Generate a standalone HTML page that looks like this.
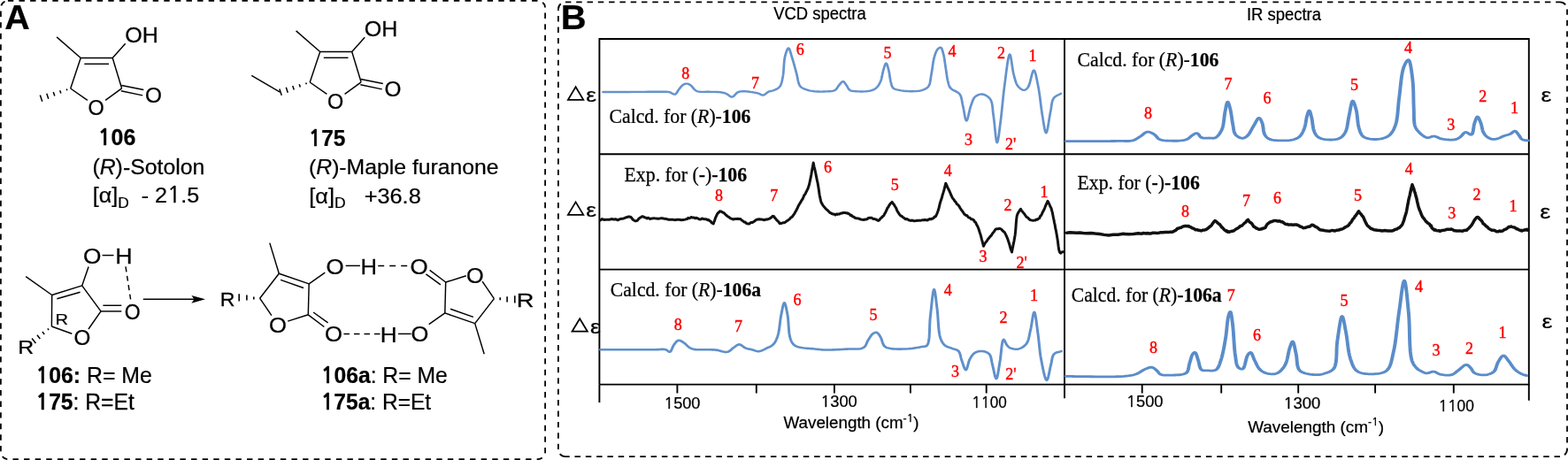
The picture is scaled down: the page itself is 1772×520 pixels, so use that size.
<!DOCTYPE html>
<html><head><meta charset="utf-8"><title>VCD and IR spectra of sotolon</title>
<style>html,body{margin:0;padding:0;background:#fff;width:1772px;height:520px;overflow:hidden}svg{display:block}</style>
</head><body>
<svg width="1772" height="520" viewBox="0 0 1772 520">
<rect width="1772" height="520" fill="#fff"/>
<rect x="0.9" y="0.9" width="615.2" height="518.2" rx="8" ry="8" fill="none" stroke="#000" stroke-width="1.8" stroke-dasharray="6.4 6.2"/>
<path d="M638.9,2.4 H1763.0 M1763.0,516.1 H638.9" fill="none" stroke="#000" stroke-width="1.6" stroke-dasharray="6.5 5.8"/>
<path d="M1771.0,10.4 V508.1 M630.9,508.1 V10.4" fill="none" stroke="#000" stroke-width="1.75" stroke-dasharray="6.4 6.0"/>
<path d="M630.9,10.4 A8,8 0 0 1 638.9,2.4 M1763.0,2.4 A8,8 0 0 1 1771.0,10.4 M1771.0,508.1 A8,8 0 0 1 1763.0,516.1 M638.9,516.1 A8,8 0 0 1 630.9,508.1" fill="none" stroke="#000" stroke-width="1.8" stroke-dasharray="7 20"/>
<g stroke="#000" stroke-width="1.9" fill="none">
<path d="M677.4,434.6 V44.0 H1727.8 V434.6 H677.4"/>
<path d="M677.4,174.2 H1727.8 M677.4,304.6 H1727.8 M1203.0,44.0 V434.6"/>
<path d="M677.4,434.6 V455 M1203.0,434.6 V450.3 M1727.8,434.6 V452.8"/>
<path d="M765.4,434.6 V444.5"/>
<path d="M854.8,434.6 V444.5"/>
<path d="M942.9,434.6 V444.5"/>
<path d="M1028.9,434.6 V444.5"/>
<path d="M1114.7,434.6 V444.5"/>
<path d="M1290.7,434.6 V444.5"/>
<path d="M1380.2,434.6 V444.5"/>
<path d="M1467.2,434.6 V444.5"/>
<path d="M1554.1,434.6 V444.5"/>
<path d="M1642.8,434.6 V444.5"/>
</g>
<path d="M650.60,98.30 L659.30,112.80 L641.90,112.80 Z" fill="none" stroke="#000" stroke-width="1.75" stroke-linejoin="miter"/>
<path d="M650.60,228.40 L659.30,242.90 L641.90,242.90 Z" fill="none" stroke="#000" stroke-width="1.75" stroke-linejoin="miter"/>
<path d="M655.20,360.20 L663.90,374.70 L646.50,374.70 Z" fill="none" stroke="#000" stroke-width="1.75" stroke-linejoin="miter"/>
<g transform="scale(1.15,1)">
<path d="M592.61,104.00 L596.82,103.99 L601.08,103.98 L605.35,103.96 L609.61,103.95 L613.84,103.94 L618.01,103.93 L622.10,103.91 L626.09,103.90 L629.63,103.88 L633.29,103.85 L636.95,103.82 L640.53,103.79 L643.94,103.76 L647.08,103.75 L649.85,103.76 L652.17,103.80 L653.07,103.81 L653.86,103.81 L654.57,103.81 L655.22,103.81 L655.84,103.83 L656.45,103.88 L657.08,103.96 L657.74,104.10 L658.47,104.36 L659.21,104.76 L659.95,105.23 L660.69,105.71 L661.41,106.15 L662.11,106.49 L662.77,106.66 L663.39,106.60 L663.97,106.28 L664.50,105.73 L664.99,105.02 L665.45,104.19 L665.91,103.30 L666.36,102.40 L666.82,101.55 L667.30,100.80 L667.78,100.13 L668.25,99.45 L668.72,98.76 L669.20,98.08 L669.68,97.44 L670.18,96.85 L670.69,96.33 L671.22,95.90 L671.68,95.59 L672.16,95.32 L672.65,95.08 L673.14,94.88 L673.65,94.73 L674.15,94.63 L674.64,94.59 L675.13,94.60 L675.63,94.68 L676.13,94.84 L676.64,95.05 L677.14,95.32 L677.64,95.62 L678.12,95.96 L678.59,96.32 L679.04,96.70 L679.51,97.16 L679.94,97.69 L680.36,98.27 L680.76,98.88 L681.17,99.49 L681.57,100.08 L681.99,100.63 L682.43,101.10 L682.82,101.47 L683.20,101.81 L683.57,102.14 L683.96,102.44 L684.36,102.71 L684.80,102.97 L685.28,103.20 L685.83,103.40 L686.89,103.66 L688.13,103.80 L689.50,103.86 L690.96,103.87 L692.48,103.83 L694.01,103.80 L695.52,103.78 L696.96,103.80 L698.38,103.84 L699.85,103.87 L701.33,103.89 L702.81,103.91 L704.25,103.95 L705.64,104.02 L706.96,104.13 L708.17,104.30 L708.98,104.45 L709.74,104.61 L710.46,104.78 L711.15,104.97 L711.82,105.19 L712.48,105.43 L713.15,105.70 L713.83,106.00 L714.54,106.42 L715.25,106.96 L715.95,107.58 L716.65,108.20 L717.34,108.77 L718.03,109.24 L718.71,109.53 L719.39,109.60 L720.11,109.36 L720.81,108.84 L721.50,108.12 L722.19,107.27 L722.88,106.39 L723.59,105.54 L724.30,104.82 L725.04,104.30 L725.70,103.99 L726.36,103.75 L727.03,103.57 L727.71,103.43 L728.40,103.34 L729.11,103.27 L729.84,103.23 L730.61,103.20 L731.64,103.20 L732.75,103.27 L733.90,103.38 L735.08,103.54 L736.27,103.72 L737.42,103.92 L738.53,104.12 L739.57,104.30 L740.34,104.44 L741.09,104.58 L741.81,104.73 L742.51,104.88 L743.20,105.04 L743.88,105.21 L744.55,105.40 L745.22,105.60 L745.84,105.84 L746.45,106.15 L747.05,106.49 L747.64,106.82 L748.23,107.13 L748.82,107.36 L749.41,107.50 L750.00,107.50 L750.66,107.31 L751.32,106.94 L751.97,106.44 L752.62,105.87 L753.28,105.25 L753.94,104.66 L754.62,104.12 L755.30,103.70 L755.98,103.40 L756.67,103.17 L757.37,102.98 L758.08,102.82 L758.79,102.65 L759.49,102.46 L760.19,102.21 L760.87,101.90 L761.61,101.51 L762.36,101.10 L763.12,100.65 L763.86,100.17 L764.58,99.63 L765.26,99.03 L765.88,98.36 L766.43,97.60 L767.01,96.57 L767.48,95.42 L767.87,94.16 L768.21,92.81 L768.50,91.38 L768.77,89.88 L769.03,88.31 L769.30,86.70 L769.66,84.15 L769.92,81.27 L770.12,78.16 L770.30,74.96 L770.49,71.77 L770.73,68.72 L771.05,65.93 L771.48,63.50 L771.83,62.01 L772.22,60.46 L772.64,58.93 L773.09,57.51 L773.54,56.26 L774.00,55.27 L774.44,54.63 L774.87,54.40 L775.30,54.69 L775.73,55.48 L776.16,56.66 L776.58,58.12 L777.00,59.77 L777.42,61.50 L777.84,63.21 L778.26,64.80 L778.82,66.82 L779.38,68.99 L779.95,71.27 L780.52,73.61 L781.08,75.98 L781.63,78.33 L782.17,80.62 L782.70,82.80 L783.11,84.72 L783.47,86.71 L783.80,88.70 L784.13,90.65 L784.49,92.50 L784.92,94.21 L785.44,95.73 L786.09,97.00 L786.60,97.72 L787.14,98.33 L787.72,98.85 L788.34,99.31 L788.99,99.71 L789.67,100.08 L790.39,100.44 L791.13,100.80 L792.13,101.24 L793.20,101.64 L794.33,101.99 L795.51,102.30 L796.73,102.57 L797.96,102.81 L799.20,103.02 L800.43,103.20 L801.79,103.36 L803.19,103.47 L804.61,103.54 L806.05,103.58 L807.49,103.58 L808.91,103.55 L810.30,103.49 L811.65,103.40 L812.85,103.33 L814.07,103.27 L815.29,103.21 L816.49,103.11 L817.64,102.95 L818.72,102.71 L819.72,102.37 L820.61,101.90 L821.25,101.38 L821.80,100.75 L822.30,100.04 L822.74,99.28 L823.17,98.49 L823.60,97.72 L824.04,96.97 L824.52,96.30 L825.00,95.67 L825.49,94.98 L825.99,94.27 L826.49,93.59 L826.99,92.99 L827.48,92.51 L827.97,92.20 L828.43,92.10 L828.87,92.23 L829.30,92.56 L829.72,93.05 L830.13,93.64 L830.53,94.31 L830.94,95.00 L831.34,95.68 L831.74,96.30 L832.16,96.98 L832.55,97.73 L832.93,98.51 L833.30,99.30 L833.70,100.07 L834.12,100.78 L834.60,101.40 L835.13,101.90 L835.71,102.27 L836.32,102.55 L836.97,102.75 L837.66,102.89 L838.38,102.99 L839.14,103.06 L839.94,103.13 L840.78,103.20 L842.21,103.32 L843.84,103.41 L845.60,103.47 L847.42,103.47 L849.26,103.42 L851.03,103.29 L852.69,103.09 L854.17,102.80 L855.17,102.54 L856.12,102.25 L857.02,101.92 L857.89,101.56 L858.71,101.14 L859.50,100.67 L860.25,100.12 L860.96,99.50 L861.65,98.76 L862.30,97.95 L862.90,97.05 L863.46,96.10 L863.99,95.08 L864.48,94.02 L864.95,92.93 L865.39,91.80 L865.87,90.35 L866.27,88.77 L866.61,87.09 L866.91,85.36 L867.20,83.64 L867.50,81.95 L867.81,80.36 L868.17,78.90 L868.48,77.76 L868.80,76.54 L869.13,75.31 L869.46,74.13 L869.80,73.09 L870.13,72.25 L870.46,71.70 L870.78,71.50 L871.10,71.70 L871.42,72.25 L871.74,73.08 L872.05,74.11 L872.36,75.28 L872.66,76.52 L872.95,77.75 L873.22,78.90 L873.55,80.48 L873.84,82.25 L874.10,84.13 L874.35,86.06 L874.60,87.99 L874.86,89.85 L875.15,91.57 L875.48,93.10 L875.71,94.06 L875.92,94.99 L876.12,95.87 L876.34,96.71 L876.59,97.50 L876.90,98.24 L877.27,98.90 L877.74,99.50 L878.35,100.05 L879.06,100.50 L879.84,100.87 L880.69,101.18 L881.59,101.44 L882.52,101.66 L883.47,101.88 L884.43,102.10 L885.69,102.37 L887.04,102.60 L888.44,102.79 L889.89,102.95 L891.35,103.06 L892.82,103.15 L894.26,103.19 L895.65,103.20 L896.96,103.19 L898.27,103.17 L899.59,103.13 L900.89,103.05 L902.17,102.92 L903.41,102.73 L904.61,102.46 L905.74,102.10 L906.70,101.73 L907.65,101.34 L908.57,100.90 L909.46,100.41 L910.30,99.84 L911.09,99.20 L911.80,98.45 L912.43,97.60 L913.08,96.35 L913.57,94.90 L913.95,93.29 L914.23,91.55 L914.47,89.73 L914.69,87.86 L914.93,85.97 L915.22,84.10 L915.58,81.81 L915.92,79.35 L916.24,76.79 L916.55,74.20 L916.88,71.64 L917.23,69.18 L917.63,66.87 L918.09,64.80 L918.44,63.43 L918.79,62.08 L919.17,60.78 L919.55,59.54 L919.97,58.40 L920.41,57.36 L920.88,56.45 L921.39,55.70 L921.75,55.27 L922.14,54.87 L922.56,54.50 L922.98,54.18 L923.39,53.94 L923.80,53.78 L924.18,53.73 L924.52,53.80 L924.94,54.13 L925.31,54.71 L925.65,55.51 L925.96,56.46 L926.24,57.52 L926.52,58.65 L926.78,59.79 L927.04,60.90 L927.40,62.54 L927.72,64.33 L928.01,66.25 L928.28,68.26 L928.53,70.31 L928.78,72.38 L929.04,74.42 L929.30,76.40 L929.57,78.36 L929.82,80.38 L930.05,82.42 L930.30,84.44 L930.55,86.43 L930.82,88.34 L931.13,90.14 L931.48,91.80 L931.73,92.93 L931.97,94.00 L932.20,95.03 L932.46,96.00 L932.76,96.95 L933.11,97.86 L933.55,98.74 L934.09,99.60 L934.95,100.56 L936.04,101.40 L937.27,102.16 L938.58,102.89 L939.90,103.65 L941.14,104.46 L942.24,105.40 L943.13,106.50 L943.81,107.80 L944.34,109.23 L944.73,110.76 L945.05,112.37 L945.31,114.04 L945.56,115.75 L945.84,117.48 L946.17,119.20 L946.61,121.47 L947.04,124.14 L947.47,127.00 L947.90,129.83 L948.34,132.41 L948.79,134.53 L949.25,135.96 L949.74,136.50 L950.25,135.97 L950.77,134.50 L951.30,132.33 L951.85,129.69 L952.41,126.83 L952.99,123.97 L953.57,121.35 L954.17,119.20 L954.62,117.79 L955.04,116.39 L955.46,115.04 L955.89,113.73 L956.35,112.51 L956.88,111.38 L957.48,110.37 L958.17,109.50 L958.90,108.81 L959.70,108.19 L960.57,107.64 L961.49,107.18 L962.43,106.82 L963.37,106.58 L964.31,106.47 L965.22,106.50 L966.25,106.71 L967.33,107.10 L968.43,107.65 L969.52,108.35 L970.57,109.18 L971.56,110.12 L972.45,111.17 L973.22,112.30 L974.00,113.98 L974.58,115.93 L974.99,118.10 L975.28,120.44 L975.51,122.92 L975.71,125.48 L975.95,128.09 L976.26,130.70 L976.72,134.56 L977.17,139.21 L977.61,144.24 L978.05,149.27 L978.48,153.88 L978.92,157.67 L979.37,160.25 L979.83,161.20 L980.24,160.56 L980.66,158.78 L981.09,156.11 L981.53,152.78 L981.96,149.02 L982.39,145.08 L982.81,141.20 L983.22,137.60 L983.73,132.95 L984.22,127.96 L984.69,122.73 L985.15,117.34 L985.63,111.89 L986.12,106.47 L986.65,101.18 L987.22,96.10 L987.79,91.15 L988.39,85.60 L989.02,79.85 L989.67,74.28 L990.32,69.27 L990.98,65.22 L991.63,62.50 L992.26,61.50 L992.76,62.22 L993.24,64.19 L993.71,67.08 L994.18,70.60 L994.66,74.43 L995.16,78.25 L995.69,81.74 L996.26,84.60 L996.69,86.44 L997.10,88.25 L997.52,90.00 L997.95,91.69 L998.42,93.28 L998.95,94.76 L999.56,96.11 L1000.26,97.30 L1000.91,98.17 L1001.63,99.01 L1002.41,99.80 L1003.23,100.50 L1004.05,101.09 L1004.86,101.54 L1005.64,101.82 L1006.35,101.90 L1006.90,101.81 L1007.43,101.60 L1007.95,101.28 L1008.45,100.86 L1008.94,100.35 L1009.42,99.76 L1009.89,99.11 L1010.35,98.40 L1011.17,96.55 L1011.94,93.91 L1012.66,90.82 L1013.35,87.57 L1014.01,84.50 L1014.66,81.92 L1015.29,80.15 L1015.91,79.50 L1016.53,80.03 L1017.12,81.47 L1017.71,83.61 L1018.27,86.28 L1018.82,89.28 L1019.35,92.42 L1019.86,95.53 L1020.35,98.40 L1020.94,102.07 L1021.47,106.04 L1021.96,110.22 L1022.42,114.50 L1022.88,118.80 L1023.34,122.99 L1023.83,126.99 L1024.35,130.70 L1024.78,133.66 L1025.22,136.87 L1025.67,140.14 L1026.13,143.27 L1026.59,146.04 L1027.06,148.28 L1027.53,149.76 L1028.00,150.30 L1028.53,149.55 L1029.08,147.51 L1029.63,144.51 L1030.19,140.86 L1030.74,136.87 L1031.29,132.87 L1031.83,129.18 L1032.35,126.10 L1032.70,123.99 L1032.98,121.88 L1033.23,119.80 L1033.48,117.79 L1033.79,115.89 L1034.18,114.11 L1034.70,112.51 L1035.39,111.10 L1036.08,110.16 L1036.86,109.37 L1037.73,108.69 L1038.66,108.09 L1039.61,107.53 L1040.58,106.99 L1041.53,106.42 L1042.43,105.80" fill="none" stroke="#6593cd" stroke-width="2.4" stroke-linejoin="round" stroke-linecap="round" />
</g>
<g transform="scale(1.15,1)">
<path d="M590.00,395.20 L596.96,395.20 L604.33,395.20 L611.85,395.20 L619.29,395.20 L626.42,395.20 L632.98,395.20 L638.75,395.20 L643.48,395.20 L645.24,395.17 L646.85,395.09 L648.33,394.99 L649.68,394.90 L650.92,394.85 L652.07,394.87 L653.15,394.97 L654.17,395.20 L654.80,395.48 L655.38,395.88 L655.92,396.35 L656.42,396.84 L656.90,397.29 L657.36,397.63 L657.81,397.82 L658.26,397.80 L658.83,397.40 L659.34,396.65 L659.82,395.64 L660.29,394.45 L660.75,393.19 L661.22,391.93 L661.72,390.77 L662.26,389.80 L662.77,389.03 L663.28,388.23 L663.81,387.44 L664.35,386.69 L664.90,386.01 L665.48,385.45 L666.08,385.03 L666.70,384.80 L667.35,384.77 L668.04,384.93 L668.76,385.23 L669.50,385.64 L670.24,386.13 L670.96,386.66 L671.67,387.19 L672.35,387.70 L673.01,388.25 L673.63,388.87 L674.24,389.54 L674.84,390.24 L675.44,390.93 L676.04,391.59 L676.66,392.19 L677.30,392.70 L677.89,393.09 L678.47,393.44 L679.06,393.76 L679.65,394.04 L680.27,394.29 L680.92,394.52 L681.61,394.72 L682.35,394.90 L683.54,395.10 L684.86,395.21 L686.27,395.26 L687.75,395.26 L689.26,395.23 L690.76,395.20 L692.24,395.18 L693.65,395.20 L694.93,395.23 L696.18,395.25 L697.42,395.27 L698.66,395.29 L699.89,395.33 L701.13,395.38 L702.38,395.47 L703.65,395.60 L705.06,395.85 L706.53,396.24 L708.02,396.70 L709.52,397.17 L710.98,397.57 L712.40,397.86 L713.73,397.96 L714.96,397.80 L715.87,397.45 L716.72,396.93 L717.51,396.28 L718.27,395.55 L719.01,394.78 L719.74,394.02 L720.47,393.31 L721.22,392.70 L721.89,392.19 L722.55,391.64 L723.21,391.08 L723.87,390.55 L724.52,390.09 L725.18,389.72 L725.85,389.48 L726.52,389.40 L727.25,389.54 L727.99,389.90 L728.73,390.42 L729.47,391.05 L730.22,391.72 L730.98,392.37 L731.75,392.95 L732.52,393.40 L733.28,393.72 L734.05,393.99 L734.82,394.22 L735.60,394.43 L736.39,394.61 L737.19,394.80 L737.98,394.99 L738.78,395.20 L739.62,395.47 L740.47,395.79 L741.32,396.13 L742.17,396.46 L743.03,396.75 L743.90,396.97 L744.77,397.10 L745.65,397.10 L746.66,396.94 L747.69,396.63 L748.74,396.21 L749.79,395.70 L750.84,395.14 L751.87,394.54 L752.87,393.96 L753.83,393.40 L754.68,392.93 L755.53,392.48 L756.36,392.03 L757.17,391.56 L757.96,391.05 L758.71,390.48 L759.42,389.84 L760.09,389.10 L760.79,388.13 L761.43,387.07 L762.02,385.93 L762.56,384.70 L763.07,383.38 L763.54,381.99 L764.00,380.53 L764.43,379.00 L765.00,376.56 L765.47,373.81 L765.86,370.84 L766.21,367.74 L766.54,364.62 L766.87,361.56 L767.23,358.65 L767.65,356.00 L768.02,353.92 L768.40,351.67 L768.79,349.39 L769.18,347.21 L769.58,345.27 L769.99,343.71 L770.39,342.68 L770.78,342.30 L771.18,342.67 L771.59,343.69 L772.00,345.23 L772.42,347.15 L772.82,349.32 L773.21,351.61 L773.57,353.88 L773.91,356.00 L774.29,358.94 L774.57,362.25 L774.79,365.78 L775.00,369.40 L775.22,372.97 L775.51,376.33 L775.90,379.36 L776.43,381.90 L776.80,383.18 L777.18,384.37 L777.58,385.48 L778.01,386.50 L778.47,387.44 L778.98,388.30 L779.55,389.09 L780.17,389.80 L780.81,390.38 L781.49,390.86 L782.22,391.26 L782.98,391.61 L783.79,391.91 L784.63,392.18 L785.52,392.44 L786.43,392.70 L787.79,393.03 L789.26,393.30 L790.82,393.52 L792.44,393.70 L794.10,393.85 L795.77,393.99 L797.43,394.14 L799.04,394.30 L800.62,394.48 L802.16,394.67 L803.70,394.85 L805.24,395.03 L806.81,395.19 L808.42,395.33 L810.09,395.43 L811.83,395.50 L814.15,395.52 L816.61,395.49 L819.17,395.40 L821.79,395.28 L824.43,395.13 L827.06,394.96 L829.62,394.78 L832.09,394.60 L834.33,394.51 L836.64,394.51 L838.97,394.54 L841.25,394.54 L843.42,394.44 L845.43,394.18 L847.21,393.68 L848.70,392.90 L849.56,392.11 L850.26,391.16 L850.84,390.08 L851.33,388.92 L851.77,387.71 L852.21,386.52 L852.68,385.36 L853.22,384.30 L853.76,383.34 L854.31,382.34 L854.86,381.35 L855.41,380.37 L855.97,379.45 L856.55,378.61 L857.13,377.89 L857.74,377.30 L858.19,376.95 L858.66,376.62 L859.14,376.33 L859.62,376.10 L860.10,375.93 L860.57,375.83 L861.04,375.82 L861.48,375.90 L861.99,376.15 L862.49,376.56 L862.97,377.10 L863.44,377.74 L863.90,378.46 L864.35,379.22 L864.79,380.01 L865.22,380.80 L865.73,381.94 L866.18,383.27 L866.59,384.72 L866.99,386.22 L867.41,387.68 L867.87,389.05 L868.41,390.25 L869.04,391.20 L869.58,391.76 L870.12,392.21 L870.70,392.58 L871.31,392.89 L871.96,393.15 L872.66,393.37 L873.43,393.59 L874.26,393.80 L876.00,394.14 L878.05,394.38 L880.34,394.52 L882.77,394.59 L885.27,394.59 L887.75,394.54 L890.14,394.43 L892.35,394.30 L894.18,394.14 L896.03,393.92 L897.87,393.65 L899.66,393.34 L901.39,393.01 L903.02,392.67 L904.54,392.33 L905.91,392.00 L906.70,391.85 L907.45,391.77 L908.16,391.71 L908.83,391.64 L909.46,391.50 L910.05,391.26 L910.61,390.88 L911.13,390.30 L912.09,388.17 L912.73,385.04 L913.14,381.14 L913.37,376.71 L913.52,371.98 L913.65,367.18 L913.84,362.55 L914.17,358.30 L914.61,353.95 L915.06,349.01 L915.53,343.83 L916.01,338.78 L916.49,334.22 L916.97,330.51 L917.45,328.01 L917.91,327.10 L918.30,327.73 L918.69,329.46 L919.08,332.06 L919.47,335.28 L919.85,338.88 L920.23,342.63 L920.60,346.28 L920.96,349.60 L921.32,353.48 L921.61,357.72 L921.87,362.15 L922.12,366.63 L922.42,370.98 L922.81,375.04 L923.32,378.67 L924.00,381.70 L924.44,383.13 L924.90,384.43 L925.38,385.63 L925.89,386.72 L926.45,387.73 L927.05,388.65 L927.71,389.51 L928.43,390.30 L929.20,390.97 L930.04,391.52 L930.95,391.99 L931.89,392.40 L932.85,392.77 L933.81,393.13 L934.75,393.49 L935.65,393.90 L936.49,394.26 L937.35,394.57 L938.21,394.85 L939.06,395.13 L939.89,395.46 L940.66,395.86 L941.37,396.36 L942.00,397.00 L942.62,397.97 L943.10,399.13 L943.49,400.43 L943.81,401.84 L944.11,403.31 L944.40,404.79 L944.73,406.23 L945.13,407.60 L945.59,409.08 L946.08,410.76 L946.58,412.53 L947.09,414.25 L947.61,415.80 L948.13,417.06 L948.64,417.90 L949.13,418.20 L949.63,417.79 L950.10,416.72 L950.56,415.16 L951.02,413.26 L951.49,411.21 L951.99,409.17 L952.53,407.31 L953.13,405.80 L953.65,404.76 L954.17,403.75 L954.71,402.78 L955.28,401.86 L955.87,400.99 L956.51,400.20 L957.18,399.50 L957.91,398.90 L958.69,398.40 L959.53,397.97 L960.42,397.61 L961.34,397.34 L962.28,397.13 L963.22,397.01 L964.14,396.96 L965.04,397.00 L965.97,397.11 L966.93,397.30 L967.91,397.57 L968.87,397.92 L969.80,398.36 L970.68,398.90 L971.48,399.55 L972.17,400.30 L972.87,401.43 L973.40,402.80 L973.82,404.35 L974.15,406.03 L974.44,407.80 L974.72,409.60 L975.02,411.38 L975.39,413.10 L975.84,415.12 L976.30,417.47 L976.77,419.97 L977.24,422.41 L977.70,424.64 L978.16,426.45 L978.61,427.66 L979.04,428.10 L979.51,427.56 L979.96,426.12 L980.40,423.96 L980.84,421.30 L981.27,418.32 L981.69,415.23 L982.11,412.22 L982.52,409.50 L982.97,406.17 L983.38,402.25 L983.76,398.07 L984.15,393.92 L984.56,390.12 L985.02,386.98 L985.55,384.80 L986.17,383.90 L986.55,384.04 L986.95,384.57 L987.37,385.39 L987.81,386.39 L988.26,387.48 L988.72,388.57 L989.18,389.54 L989.65,390.30 L990.02,390.79 L990.38,391.25 L990.74,391.68 L991.10,392.08 L991.49,392.46 L991.91,392.80 L992.36,393.12 L992.87,393.40 L993.67,393.76 L994.58,394.08 L995.57,394.36 L996.61,394.58 L997.68,394.71 L998.75,394.76 L999.79,394.69 L1000.78,394.50 L1001.85,394.14 L1002.93,393.66 L1004.02,393.04 L1005.10,392.31 L1006.13,391.47 L1007.10,390.53 L1007.99,389.51 L1008.78,388.40 L1009.58,386.90 L1010.22,385.20 L1010.74,383.33 L1011.17,381.34 L1011.55,379.26 L1011.91,377.14 L1012.28,375.00 L1012.70,372.90 L1013.19,370.24 L1013.67,367.12 L1014.14,363.79 L1014.59,360.50 L1015.04,357.50 L1015.48,355.05 L1015.91,353.40 L1016.35,352.80 L1016.82,353.49 L1017.28,355.35 L1017.75,358.14 L1018.20,361.58 L1018.64,365.41 L1019.08,369.36 L1019.50,373.18 L1019.91,376.60 L1020.32,380.12 L1020.68,383.76 L1021.02,387.46 L1021.34,391.20 L1021.68,394.95 L1022.07,398.65 L1022.51,402.28 L1023.04,405.80 L1023.62,409.27 L1024.27,413.14 L1024.98,417.15 L1025.72,421.03 L1026.47,424.51 L1027.22,427.32 L1027.94,429.21 L1028.61,429.90 L1029.14,429.39 L1029.66,428.01 L1030.17,425.96 L1030.67,423.46 L1031.17,420.71 L1031.65,417.93 L1032.13,415.32 L1032.61,413.10 L1032.97,411.35 L1033.27,409.55 L1033.53,407.75 L1033.81,405.99 L1034.12,404.32 L1034.53,402.78 L1035.05,401.43 L1035.74,400.30 L1036.44,399.58 L1037.25,399.02 L1038.14,398.59 L1039.09,398.25 L1040.07,397.95 L1041.05,397.67 L1042.03,397.37 L1042.96,397.00" fill="none" stroke="#5f90cb" stroke-width="2.6" stroke-linejoin="round" stroke-linecap="round" />
</g>
<g transform="scale(1.4,1)">
<path d="M860.36,159.70 L863.56,159.69 L866.79,159.68 L870.05,159.67 L873.30,159.66 L876.51,159.65 L879.67,159.64 L882.74,159.62 L885.71,159.60 L888.17,159.58 L890.60,159.57 L892.99,159.56 L895.33,159.54 L897.60,159.52 L899.80,159.49 L901.92,159.45 L903.93,159.40 L905.38,159.39 L906.79,159.43 L908.16,159.48 L909.48,159.52 L910.76,159.52 L911.98,159.43 L913.16,159.24 L914.29,158.90 L915.17,158.50 L916.00,158.01 L916.79,157.45 L917.55,156.83 L918.29,156.17 L919.03,155.50 L919.76,154.84 L920.50,154.20 L921.22,153.53 L921.93,152.76 L922.63,151.96 L923.33,151.16 L924.02,150.42 L924.72,149.80 L925.42,149.34 L926.14,149.10 L926.84,149.08 L927.57,149.23 L928.30,149.52 L929.03,149.91 L929.76,150.38 L930.47,150.90 L931.15,151.45 L931.79,152.00 L932.35,152.59 L932.85,153.28 L933.32,154.03 L933.77,154.81 L934.23,155.59 L934.73,156.32 L935.29,156.97 L935.93,157.50 L936.87,158.02 L937.90,158.41 L939.02,158.70 L940.21,158.89 L941.44,159.02 L942.69,159.11 L943.96,159.16 L945.21,159.20 L946.71,159.24 L948.32,159.26 L949.98,159.23 L951.66,159.14 L953.30,158.97 L954.86,158.71 L956.30,158.32 L957.57,157.80 L958.36,157.31 L959.09,156.70 L959.75,156.02 L960.37,155.29 L960.97,154.56 L961.55,153.86 L962.12,153.23 L962.71,152.70 L963.18,152.32 L963.64,151.92 L964.10,151.53 L964.55,151.17 L964.99,150.87 L965.43,150.66 L965.86,150.56 L966.29,150.60 L966.75,150.88 L967.19,151.40 L967.61,152.09 L968.02,152.88 L968.45,153.70 L968.90,154.48 L969.39,155.13 L969.93,155.60 L970.59,155.91 L971.32,156.10 L972.09,156.18 L972.89,156.19 L973.71,156.15 L974.52,156.09 L975.31,156.03 L976.07,156.00 L976.74,156.03 L977.41,156.09 L978.08,156.17 L978.73,156.23 L979.38,156.23 L980.01,156.14 L980.62,155.95 L981.21,155.60 L981.95,154.94 L982.68,154.07 L983.38,153.03 L984.06,151.84 L984.70,150.54 L985.30,149.14 L985.86,147.69 L986.36,146.20 L986.91,144.06 L987.33,141.63 L987.66,138.99 L987.92,136.26 L988.15,133.50 L988.38,130.81 L988.63,128.28 L988.93,126.00 L989.18,124.34 L989.43,122.55 L989.68,120.76 L989.93,119.05 L990.19,117.53 L990.46,116.32 L990.72,115.51 L991.00,115.20 L991.25,115.40 L991.51,115.98 L991.78,116.86 L992.05,117.98 L992.32,119.24 L992.58,120.59 L992.84,121.93 L993.07,123.20 L993.38,125.06 L993.65,127.13 L993.90,129.35 L994.14,131.65 L994.38,133.98 L994.62,136.27 L994.87,138.46 L995.14,140.50 L995.35,142.10 L995.53,143.71 L995.69,145.30 L995.86,146.84 L996.08,148.31 L996.36,149.68 L996.73,150.92 L997.21,152.00 L997.75,152.85 L998.39,153.64 L999.10,154.37 L999.86,155.00 L1000.64,155.53 L1001.42,155.94 L1002.17,156.20 L1002.86,156.30 L1003.41,156.25 L1003.95,156.09 L1004.48,155.83 L1005.00,155.48 L1005.51,155.05 L1006.01,154.56 L1006.51,154.00 L1007.00,153.40 L1007.69,152.36 L1008.37,151.09 L1009.02,149.64 L1009.66,148.08 L1010.29,146.46 L1010.91,144.85 L1011.53,143.31 L1012.14,141.90 L1012.68,140.64 L1013.23,139.25 L1013.77,137.81 L1014.30,136.43 L1014.82,135.19 L1015.33,134.20 L1015.82,133.54 L1016.29,133.30 L1016.65,133.45 L1017.00,133.86 L1017.34,134.48 L1017.67,135.26 L1017.99,136.15 L1018.30,137.10 L1018.59,138.07 L1018.86,139.00 L1019.17,140.39 L1019.41,142.00 L1019.60,143.76 L1019.76,145.57 L1019.94,147.38 L1020.16,149.11 L1020.46,150.67 L1020.86,152.00 L1021.20,152.84 L1021.57,153.62 L1021.96,154.33 L1022.38,154.99 L1022.83,155.59 L1023.34,156.14 L1023.89,156.64 L1024.50,157.10 L1025.50,157.65 L1026.66,158.07 L1027.94,158.38 L1029.30,158.59 L1030.70,158.73 L1032.11,158.81 L1033.48,158.86 L1034.79,158.90 L1035.99,158.92 L1037.21,158.92 L1038.43,158.87 L1039.64,158.78 L1040.83,158.64 L1041.97,158.43 L1043.06,158.16 L1044.07,157.80 L1044.84,157.47 L1045.57,157.11 L1046.28,156.71 L1046.96,156.27 L1047.60,155.78 L1048.22,155.22 L1048.80,154.60 L1049.36,153.90 L1049.93,153.02 L1050.46,152.04 L1050.94,150.97 L1051.39,149.83 L1051.81,148.62 L1052.20,147.38 L1052.57,146.10 L1052.93,144.80 L1053.31,143.17 L1053.62,141.38 L1053.90,139.49 L1054.14,137.57 L1054.37,135.67 L1054.61,133.85 L1054.86,132.18 L1055.14,130.70 L1055.35,129.77 L1055.56,128.81 L1055.77,127.85 L1055.99,126.95 L1056.21,126.17 L1056.43,125.55 L1056.65,125.14 L1056.86,125.00 L1057.10,125.21 L1057.34,125.78 L1057.57,126.64 L1057.81,127.71 L1058.04,128.92 L1058.27,130.21 L1058.49,131.49 L1058.71,132.70 L1058.99,134.49 L1059.23,136.51 L1059.43,138.68 L1059.64,140.93 L1059.88,143.15 L1060.15,145.28 L1060.50,147.22 L1060.93,148.90 L1061.27,149.93 L1061.63,150.90 L1062.01,151.81 L1062.42,152.65 L1062.86,153.43 L1063.35,154.15 L1063.89,154.80 L1064.50,155.40 L1065.36,156.04 L1066.33,156.58 L1067.40,157.01 L1068.53,157.36 L1069.69,157.62 L1070.87,157.81 L1072.03,157.94 L1073.14,158.00 L1074.25,158.01 L1075.39,157.98 L1076.55,157.87 L1077.71,157.69 L1078.83,157.43 L1079.90,157.07 L1080.89,156.59 L1081.79,156.00 L1082.49,155.38 L1083.13,154.69 L1083.72,153.91 L1084.27,153.06 L1084.78,152.13 L1085.26,151.13 L1085.71,150.05 L1086.14,148.90 L1086.68,147.08 L1087.12,145.00 L1087.49,142.74 L1087.80,140.34 L1088.08,137.88 L1088.36,135.41 L1088.66,133.00 L1089.00,130.70 L1089.35,128.36 L1089.70,125.73 L1090.06,122.98 L1090.41,120.31 L1090.77,117.90 L1091.15,115.94 L1091.53,114.61 L1091.93,114.10 L1092.27,114.36 L1092.64,115.13 L1093.01,116.30 L1093.39,117.77 L1093.77,119.44 L1094.13,121.20 L1094.48,122.96 L1094.79,124.60 L1095.13,126.85 L1095.40,129.35 L1095.62,132.02 L1095.82,134.77 L1096.03,137.51 L1096.27,140.15 L1096.59,142.61 L1097.00,144.80 L1097.33,146.26 L1097.65,147.68 L1097.99,149.04 L1098.35,150.33 L1098.77,151.53 L1099.27,152.64 L1099.86,153.63 L1100.57,154.50 L1101.65,155.39 L1102.94,156.11 L1104.39,156.67 L1105.95,157.08 L1107.56,157.35 L1109.16,157.48 L1110.71,157.49 L1112.14,157.40 L1113.40,157.22 L1114.67,156.93 L1115.93,156.54 L1117.17,156.05 L1118.36,155.44 L1119.49,154.71 L1120.54,153.87 L1121.50,152.90 L1122.36,151.80 L1123.13,150.57 L1123.83,149.22 L1124.47,147.75 L1125.05,146.17 L1125.58,144.48 L1126.09,142.69 L1126.57,140.80 L1127.19,137.73 L1127.66,134.31 L1128.02,130.60 L1128.31,126.69 L1128.56,122.65 L1128.81,118.55 L1129.08,114.48 L1129.43,110.50 L1129.82,106.15 L1130.19,101.51 L1130.55,96.73 L1130.93,91.98 L1131.34,87.39 L1131.83,83.13 L1132.39,79.35 L1133.07,76.20 L1133.50,74.68 L1133.97,73.15 L1134.48,71.68 L1135.00,70.35 L1135.52,69.22 L1136.02,68.35 L1136.50,67.82 L1136.93,67.70 L1137.51,68.45 L1138.03,70.25 L1138.51,72.87 L1138.94,76.08 L1139.33,79.65 L1139.68,83.36 L1140.00,86.99 L1140.29,90.30 L1140.55,94.03 L1140.74,97.98 L1140.86,102.05 L1140.94,106.19 L1140.99,110.32 L1141.04,114.37 L1141.11,118.25 L1141.21,121.90 L1141.29,124.72 L1141.33,127.54 L1141.35,130.32 L1141.38,133.01 L1141.45,135.58 L1141.58,137.97 L1141.80,140.16 L1142.14,142.10 L1142.41,143.16 L1142.69,144.12 L1143.01,144.99 L1143.35,145.79 L1143.72,146.56 L1144.13,147.30 L1144.58,148.04 L1145.07,148.80 L1145.74,149.78 L1146.50,150.82 L1147.33,151.87 L1148.20,152.88 L1149.10,153.81 L1150.02,154.60 L1150.92,155.21 L1151.79,155.60 L1152.50,155.69 L1153.22,155.57 L1153.93,155.30 L1154.65,154.95 L1155.37,154.58 L1156.10,154.25 L1156.83,154.04 L1157.57,154.00 L1158.38,154.17 L1159.18,154.50 L1159.98,154.93 L1160.80,155.44 L1161.62,155.96 L1162.48,156.46 L1163.36,156.89 L1164.29,157.20 L1165.52,157.47 L1166.87,157.70 L1168.30,157.88 L1169.75,157.99 L1171.18,158.03 L1172.54,157.99 L1173.78,157.85 L1174.86,157.60 L1175.45,157.39 L1175.98,157.13 L1176.47,156.84 L1176.94,156.51 L1177.38,156.15 L1177.81,155.76 L1178.25,155.34 L1178.71,154.90 L1179.25,154.28 L1179.78,153.52 L1180.30,152.68 L1180.82,151.83 L1181.34,151.01 L1181.87,150.31 L1182.43,149.79 L1183.00,149.50 L1183.59,149.54 L1184.22,149.88 L1184.88,150.41 L1185.55,151.02 L1186.20,151.62 L1186.81,152.08 L1187.37,152.31 L1187.86,152.20 L1188.38,151.48 L1188.76,150.24 L1189.06,148.61 L1189.28,146.74 L1189.48,144.75 L1189.68,142.78 L1189.91,140.95 L1190.21,139.40 L1190.49,138.26 L1190.78,137.05 L1191.08,135.82 L1191.38,134.65 L1191.70,133.61 L1192.01,132.77 L1192.33,132.21 L1192.64,132.00 L1192.94,132.15 L1193.25,132.59 L1193.55,133.26 L1193.87,134.11 L1194.18,135.07 L1194.48,136.10 L1194.78,137.13 L1195.07,138.10 L1195.43,139.50 L1195.75,141.09 L1196.04,142.81 L1196.33,144.58 L1196.64,146.34 L1196.99,148.03 L1197.41,149.57 L1197.93,150.90 L1198.42,151.85 L1198.95,152.74 L1199.53,153.58 L1200.13,154.34 L1200.77,155.04 L1201.41,155.65 L1202.06,156.17 L1202.71,156.60 L1203.29,156.90 L1203.87,157.12 L1204.47,157.27 L1205.07,157.36 L1205.68,157.40 L1206.30,157.38 L1206.93,157.31 L1207.57,157.20 L1208.38,156.96 L1209.21,156.58 L1210.07,156.11 L1210.94,155.57 L1211.81,155.00 L1212.66,154.44 L1213.49,153.93 L1214.29,153.50 L1214.92,153.21 L1215.55,152.97 L1216.17,152.74 L1216.77,152.53 L1217.36,152.32 L1217.94,152.08 L1218.51,151.82 L1219.07,151.50 L1219.59,151.10 L1220.10,150.59 L1220.61,150.02 L1221.10,149.45 L1221.57,148.93 L1222.04,148.51 L1222.49,148.25 L1222.93,148.20 L1223.32,148.36 L1223.70,148.69 L1224.06,149.15 L1224.42,149.71 L1224.76,150.33 L1225.10,150.98 L1225.44,151.61 L1225.79,152.20 L1226.15,152.85 L1226.49,153.57 L1226.82,154.33 L1227.15,155.09 L1227.49,155.83 L1227.86,156.51 L1228.26,157.11 L1228.71,157.60 L1229.23,157.96 L1229.79,158.22 L1230.40,158.39 L1231.02,158.51 L1231.67,158.60 L1232.31,158.67 L1232.95,158.77 L1233.57,158.90" fill="none" stroke="#5a8cc9" stroke-width="2.8" stroke-linejoin="round" stroke-linecap="round" />
</g>
<g transform="scale(1.4,1)">
<path d="M860.36,425.30 L862.42,425.35 L864.44,425.41 L866.44,425.48 L868.45,425.54 L870.49,425.59 L872.61,425.64 L874.81,425.68 L877.14,425.70 L880.59,425.73 L884.41,425.79 L888.46,425.84 L892.60,425.87 L896.68,425.85 L900.57,425.77 L904.10,425.59 L907.14,425.30 L908.69,425.09 L910.13,424.88 L911.47,424.65 L912.74,424.38 L913.93,424.08 L915.08,423.72 L916.19,423.30 L917.29,422.80 L918.17,422.30 L918.99,421.71 L919.78,421.06 L920.54,420.38 L921.29,419.70 L922.03,419.04 L922.79,418.43 L923.57,417.90 L924.33,417.42 L925.11,416.92 L925.90,416.43 L926.69,415.98 L927.47,415.60 L928.23,415.32 L928.95,415.17 L929.64,415.20 L930.21,415.38 L930.76,415.69 L931.29,416.10 L931.80,416.59 L932.30,417.13 L932.78,417.70 L933.25,418.26 L933.71,418.80 L934.13,419.33 L934.50,419.91 L934.84,420.52 L935.18,421.14 L935.53,421.74 L935.92,422.30 L936.35,422.80 L936.86,423.20 L937.66,423.61 L938.55,423.90 L939.53,424.09 L940.57,424.19 L941.67,424.22 L942.79,424.20 L943.93,424.16 L945.07,424.10 L946.60,424.05 L948.29,424.00 L950.08,423.92 L951.89,423.76 L953.63,423.48 L955.24,423.02 L956.62,422.34 L957.71,421.40 L958.34,420.43 L958.80,419.28 L959.13,417.97 L959.37,416.57 L959.56,415.10 L959.74,413.62 L959.94,412.18 L960.21,410.80 L960.52,409.41 L960.82,407.93 L961.12,406.41 L961.42,404.91 L961.73,403.48 L962.06,402.19 L962.41,401.07 L962.79,400.20 L963.00,399.81 L963.23,399.44 L963.47,399.11 L963.71,398.82 L963.95,398.59 L964.19,398.43 L964.42,398.37 L964.64,398.40 L965.01,398.77 L965.35,399.53 L965.68,400.58 L966.00,401.84 L966.30,403.22 L966.61,404.65 L966.91,406.04 L967.21,407.30 L967.51,408.65 L967.77,410.13 L968.00,411.67 L968.24,413.21 L968.50,414.67 L968.82,415.98 L969.22,417.08 L969.71,417.90 L970.15,418.31 L970.64,418.58 L971.16,418.74 L971.72,418.81 L972.30,418.83 L972.90,418.81 L973.52,418.79 L974.14,418.80 L975.02,418.86 L975.98,418.95 L977.00,419.03 L978.04,419.05 L979.07,418.99 L980.05,418.81 L980.94,418.45 L981.71,417.90 L982.40,417.08 L982.99,416.07 L983.49,414.88 L983.94,413.54 L984.34,412.09 L984.72,410.55 L985.10,408.94 L985.50,407.30 L986.08,404.73 L986.63,401.88 L987.14,398.82 L987.62,395.60 L988.07,392.30 L988.49,388.97 L988.90,385.68 L989.29,382.50 L989.63,379.28 L989.93,375.88 L990.19,372.40 L990.44,368.95 L990.68,365.65 L990.94,362.60 L991.23,359.91 L991.57,357.70 L991.76,356.76 L991.95,355.82 L992.15,354.92 L992.36,354.09 L992.56,353.39 L992.76,352.85 L992.96,352.51 L993.14,352.40 L993.41,352.80 L993.67,353.84 L993.91,355.38 L994.14,357.32 L994.37,359.53 L994.58,361.87 L994.79,364.24 L995.00,366.50 L995.30,370.27 L995.56,374.62 L995.79,379.35 L996.01,384.27 L996.24,389.18 L996.50,393.88 L996.79,398.19 L997.14,401.90 L997.36,403.97 L997.56,405.99 L997.75,407.94 L997.96,409.76 L998.21,411.44 L998.53,412.93 L998.93,414.19 L999.43,415.20 L999.82,415.73 L1000.27,416.20 L1000.77,416.61 L1001.28,416.93 L1001.80,417.14 L1002.31,417.23 L1002.78,417.19 L1003.21,417.00 L1003.84,416.13 L1004.37,414.56 L1004.83,412.51 L1005.25,410.17 L1005.65,407.73 L1006.06,405.41 L1006.50,403.40 L1007.00,401.90 L1007.31,401.24 L1007.63,400.58 L1007.95,399.97 L1008.28,399.42 L1008.61,398.96 L1008.94,398.62 L1009.26,398.42 L1009.57,398.40 L1009.99,398.74 L1010.38,399.48 L1010.76,400.53 L1011.13,401.80 L1011.50,403.21 L1011.89,404.65 L1012.29,406.05 L1012.71,407.30 L1013.20,408.63 L1013.69,410.04 L1014.18,411.48 L1014.70,412.93 L1015.24,414.33 L1015.82,415.65 L1016.45,416.86 L1017.14,417.90 L1017.82,418.71 L1018.54,419.45 L1019.29,420.11 L1020.09,420.70 L1020.90,421.21 L1021.73,421.65 L1022.58,422.01 L1023.43,422.30 L1024.34,422.54 L1025.30,422.72 L1026.29,422.83 L1027.29,422.85 L1028.29,422.77 L1029.26,422.58 L1030.19,422.26 L1031.07,421.80 L1031.98,421.12 L1032.86,420.27 L1033.71,419.26 L1034.53,418.11 L1035.31,416.85 L1036.04,415.50 L1036.72,414.08 L1037.36,412.60 L1038.05,410.52 L1038.63,408.11 L1039.12,405.50 L1039.55,402.78 L1039.94,400.07 L1040.31,397.48 L1040.71,395.12 L1041.14,393.10 L1041.43,391.93 L1041.72,390.71 L1042.01,389.51 L1042.30,388.39 L1042.59,387.42 L1042.87,386.65 L1043.15,386.16 L1043.43,386.00 L1043.80,386.43 L1044.16,387.53 L1044.52,389.15 L1044.87,391.16 L1045.21,393.39 L1045.55,395.71 L1045.88,397.96 L1046.21,400.00 L1046.52,402.29 L1046.71,404.78 L1046.87,407.38 L1047.03,409.99 L1047.27,412.52 L1047.64,414.86 L1048.19,416.92 L1049.00,418.60 L1050.02,419.83 L1051.26,420.83 L1052.67,421.62 L1054.20,422.22 L1055.78,422.69 L1057.36,423.03 L1058.88,423.29 L1060.29,423.50 L1061.43,423.62 L1062.55,423.66 L1063.66,423.63 L1064.76,423.51 L1065.84,423.32 L1066.91,423.05 L1067.96,422.71 L1069.00,422.30 L1070.06,421.84 L1071.15,421.37 L1072.23,420.83 L1073.29,420.21 L1074.31,419.47 L1075.25,418.58 L1076.11,417.50 L1076.86,416.20 L1077.74,413.59 L1078.31,410.32 L1078.65,406.54 L1078.83,402.41 L1078.93,398.10 L1079.02,393.75 L1079.18,389.53 L1079.50,385.60 L1079.92,381.64 L1080.37,377.17 L1080.85,372.50 L1081.35,367.97 L1081.85,363.88 L1082.36,360.56 L1082.87,358.33 L1083.36,357.50 L1083.75,358.00 L1084.15,359.39 L1084.55,361.50 L1084.95,364.11 L1085.34,367.05 L1085.74,370.12 L1086.12,373.14 L1086.50,375.90 L1086.93,379.31 L1087.31,383.01 L1087.66,386.89 L1088.02,390.84 L1088.40,394.75 L1088.84,398.53 L1089.37,402.04 L1090.00,405.20 L1090.50,407.33 L1091.00,409.41 L1091.51,411.40 L1092.07,413.29 L1092.70,415.05 L1093.42,416.66 L1094.25,418.08 L1095.21,419.30 L1096.41,420.34 L1097.78,421.17 L1099.29,421.80 L1100.89,422.25 L1102.55,422.56 L1104.22,422.73 L1105.86,422.81 L1107.43,422.80 L1109.01,422.74 L1110.65,422.61 L1112.33,422.39 L1113.98,422.03 L1115.59,421.51 L1117.09,420.79 L1118.46,419.83 L1119.64,418.60 L1120.73,416.87 L1121.62,414.79 L1122.33,412.41 L1122.92,409.79 L1123.42,406.96 L1123.89,403.99 L1124.35,400.92 L1124.86,397.80 L1125.57,393.09 L1126.19,387.92 L1126.73,382.40 L1127.23,376.66 L1127.71,370.81 L1128.18,364.99 L1128.67,359.31 L1129.21,353.90 L1129.75,348.65 L1130.30,342.76 L1130.86,336.66 L1131.42,330.74 L1131.98,325.43 L1132.53,321.12 L1133.07,318.24 L1133.57,317.20 L1134.06,318.24 L1134.53,321.06 L1135.00,325.29 L1135.45,330.53 L1135.88,336.40 L1136.30,342.51 L1136.70,348.47 L1137.07,353.90 L1137.42,360.43 L1137.63,367.67 L1137.77,375.29 L1137.90,382.96 L1138.10,390.36 L1138.42,397.15 L1138.94,403.00 L1139.71,407.60 L1140.17,409.26 L1140.68,410.76 L1141.23,412.10 L1141.81,413.30 L1142.40,414.37 L1142.98,415.32 L1143.54,416.16 L1144.07,416.90 L1144.35,417.27 L1144.62,417.57 L1144.87,417.83 L1145.13,418.05 L1145.39,418.25 L1145.66,418.45 L1145.96,418.66 L1146.29,418.90 L1146.81,419.30 L1147.38,419.75 L1148.00,420.22 L1148.65,420.68 L1149.31,421.10 L1150.00,421.47 L1150.68,421.74 L1151.36,421.90 L1152.08,421.88 L1152.83,421.69 L1153.59,421.37 L1154.36,421.00 L1155.13,420.63 L1155.89,420.31 L1156.63,420.12 L1157.36,420.10 L1158.01,420.27 L1158.62,420.58 L1159.22,420.99 L1159.82,421.45 L1160.42,421.94 L1161.05,422.40 L1161.71,422.80 L1162.43,423.10 L1163.47,423.40 L1164.63,423.68 L1165.86,423.92 L1167.12,424.08 L1168.38,424.17 L1169.61,424.14 L1170.75,423.99 L1171.79,423.70 L1172.53,423.33 L1173.21,422.85 L1173.85,422.28 L1174.45,421.65 L1175.05,420.97 L1175.65,420.27 L1176.27,419.57 L1176.93,418.90 L1177.75,418.04 L1178.62,417.01 L1179.51,415.91 L1180.41,414.83 L1181.30,413.84 L1182.16,413.03 L1182.97,412.49 L1183.71,412.30 L1184.21,412.40 L1184.67,412.67 L1185.12,413.07 L1185.54,413.57 L1185.96,414.13 L1186.36,414.73 L1186.75,415.33 L1187.14,415.90 L1187.53,416.54 L1187.88,417.25 L1188.20,418.01 L1188.51,418.79 L1188.84,419.56 L1189.21,420.29 L1189.64,420.94 L1190.14,421.50 L1190.93,422.10 L1191.83,422.63 L1192.84,423.07 L1193.90,423.43 L1195.00,423.69 L1196.11,423.86 L1197.19,423.94 L1198.21,423.90 L1199.22,423.77 L1200.27,423.54 L1201.32,423.22 L1202.36,422.81 L1203.37,422.29 L1204.31,421.67 L1205.18,420.94 L1205.93,420.10 L1206.55,419.07 L1207.05,417.85 L1207.45,416.48 L1207.79,415.02 L1208.12,413.52 L1208.45,412.05 L1208.83,410.66 L1209.29,409.40 L1209.76,408.27 L1210.27,407.06 L1210.80,405.84 L1211.34,404.67 L1211.90,403.64 L1212.46,402.80 L1213.02,402.23 L1213.57,402.00 L1214.10,402.15 L1214.63,402.60 L1215.16,403.30 L1215.70,404.18 L1216.24,405.18 L1216.78,406.22 L1217.32,407.25 L1217.86,408.20 L1218.48,409.30 L1219.10,410.50 L1219.71,411.77 L1220.33,413.06 L1220.95,414.34 L1221.59,415.56 L1222.25,416.70 L1222.93,417.70 L1223.54,418.46 L1224.17,419.17 L1224.81,419.83 L1225.47,420.45 L1226.12,421.02 L1226.78,421.55 L1227.43,422.04 L1228.07,422.50 L1228.61,422.85 L1229.14,423.15 L1229.66,423.42 L1230.19,423.66 L1230.71,423.89 L1231.24,424.12 L1231.76,424.35 L1232.29,424.60" fill="none" stroke="#5a8cc9" stroke-width="2.8" stroke-linejoin="round" stroke-linecap="round" />
</g>
<path d="M678.40,249.01 L680.48,247.61 L682.54,248.49 L684.61,248.19 L686.69,248.20 L688.78,248.22 L690.90,247.59 L693.23,248.01 L695.67,247.69 L698.12,248.79 L700.51,247.65 L702.76,247.22 L704.80,246.92 L706.11,246.43 L707.32,245.82 L708.47,245.49 L709.56,245.29 L710.63,244.81 L711.70,245.19 L712.80,245.34 L713.84,246.34 L714.86,247.93 L715.88,248.74 L716.91,249.28 L718.00,249.75 L719.21,249.66 L720.46,249.24 L721.73,247.44 L723.02,246.28 L724.31,245.70 L725.60,244.63 L726.73,244.83 L727.83,245.47 L728.93,245.85 L730.07,246.23 L731.28,246.88 L732.60,246.15 L734.62,247.49 L736.84,246.92 L739.20,246.63 L741.62,247.12 L744.04,247.18 L746.40,246.87 L748.71,246.82 L751.03,247.36 L753.35,247.58 L755.66,248.27 L757.98,248.28 L760.30,248.26 L762.67,248.64 L765.11,248.36 L767.56,248.22 L769.93,248.68 L772.17,248.59 L774.20,248.14 L775.51,247.67 L776.69,247.55 L777.80,246.26 L778.89,246.76 L780.01,246.34 L781.20,245.51 L782.60,246.04 L784.03,245.93 L785.50,246.76 L786.99,246.29 L788.49,246.97 L790.00,247.71 L791.62,247.97 L793.29,247.00 L794.99,247.51 L796.65,247.81 L798.23,247.72 L799.70,248.78 L800.91,248.52 L802.03,249.72 L803.09,250.14 L804.12,251.78 L805.14,252.25 L806.20,252.99 L806.84,250.76 L807.45,249.87 L808.07,247.68 L808.71,245.85 L809.41,244.32 L810.20,242.70 L810.80,241.58 L811.43,240.74 L812.09,240.04 L812.77,240.12 L813.48,238.86 L814.20,238.92 L814.96,239.07 L815.74,239.55 L816.54,240.14 L817.36,240.19 L818.22,240.68 L819.10,241.80 L820.33,243.04 L821.60,243.96 L822.93,244.92 L824.31,245.84 L825.73,246.94 L827.20,247.43 L828.73,248.00 L830.34,247.47 L832.00,247.54 L833.66,247.27 L835.27,247.41 L836.80,247.57 L838.22,248.98 L839.55,249.75 L840.83,250.98 L842.12,251.11 L843.46,252.54 L844.90,252.92 L846.64,253.08 L848.47,251.52 L850.37,251.51 L852.31,250.33 L854.26,248.59 L856.20,248.01 L858.10,247.79 L860.06,247.99 L862.04,248.23 L863.98,248.72 L865.82,248.00 L867.50,248.03 L868.74,247.36 L869.92,247.13 L871.03,246.05 L872.08,245.54 L873.07,244.35 L874.00,244.54 L874.76,244.71 L875.44,246.06 L876.06,246.67 L876.67,247.32 L877.30,248.19 L878.00,249.25 L878.75,249.60 L879.52,250.29 L880.31,251.43 L881.14,252.66 L882.00,252.30 L882.90,252.43 L884.03,252.16 L885.24,251.71 L886.51,251.64 L887.78,250.97 L889.02,249.90 L890.20,249.20 L891.34,248.35 L892.46,247.53 L893.54,246.14 L894.59,245.49 L895.61,244.61 L896.60,243.17 L897.78,241.57 L898.87,239.56 L899.91,237.66 L900.94,235.87 L901.99,233.32 L903.10,231.25 L904.44,229.16 L905.88,226.61 L907.35,224.40 L908.78,220.77 L910.09,219.27 L911.20,216.66 L911.87,215.43 L912.44,214.38 L912.96,213.25 L913.44,211.99 L913.91,210.35 L914.40,209.18 L915.25,205.26 L916.06,201.37 L916.85,197.32 L917.63,192.39 L918.41,188.68 L919.20,184.01 L920.02,188.25 L920.84,191.49 L921.66,195.28 L922.47,199.35 L923.29,203.42 L924.10,206.92 L924.83,211.28 L925.47,215.44 L926.10,220.20 L926.82,223.58 L927.72,227.76 L928.90,230.31 L929.81,231.80 L930.82,233.25 L931.90,234.31 L933.04,235.80 L934.21,237.09 L935.40,237.85 L936.54,238.98 L937.73,240.28 L938.94,240.81 L940.18,241.62 L941.44,242.12 L942.70,242.12 L943.89,242.92 L945.11,242.02 L946.35,242.45 L947.57,241.89 L948.76,241.89 L949.90,241.28 L950.80,240.89 L951.67,241.06 L952.51,240.61 L953.34,240.59 L954.17,240.59 L955.00,240.56 L955.85,240.67 L956.69,240.69 L957.53,241.16 L958.36,240.90 L959.19,241.86 L960.00,241.94 L960.82,243.11 L961.60,243.70 L962.36,243.33 L963.15,244.56 L964.02,245.05 L965.00,245.29 L966.62,246.43 L968.48,246.80 L970.48,247.03 L972.52,247.98 L974.49,248.35 L976.30,248.53 L977.64,247.95 L978.90,248.08 L980.12,247.58 L981.32,246.48 L982.54,246.24 L983.80,246.28 L985.22,246.32 L986.66,247.43 L988.11,247.55 L989.58,247.85 L991.04,248.58 L992.50,249.38 L993.57,249.06 L994.66,247.33 L995.75,246.42 L996.82,245.51 L997.84,244.26 L998.80,243.78 L999.74,241.51 L1000.60,240.32 L1001.41,238.49 L1002.19,236.99 L1002.97,234.88 L1003.80,234.33 L1004.51,232.71 L1005.22,231.78 L1005.94,230.56 L1006.66,229.72 L1007.38,229.20 L1008.10,228.40 L1008.73,229.26 L1009.37,230.32 L1010.00,231.09 L1010.63,231.82 L1011.27,233.03 L1011.90,233.98 L1012.59,235.05 L1013.24,236.68 L1013.88,238.28 L1014.57,239.38 L1015.36,240.56 L1016.30,242.12 L1017.48,243.71 L1018.80,244.27 L1020.22,245.44 L1021.75,246.44 L1023.35,247.74 L1025.00,247.55 L1026.89,248.79 L1028.89,249.42 L1030.98,249.05 L1033.13,249.85 L1035.32,249.59 L1037.50,249.24 L1040.02,249.36 L1042.72,248.63 L1045.45,248.61 L1048.08,248.92 L1050.48,247.61 L1052.50,247.85 L1053.54,246.92 L1054.46,246.90 L1055.29,246.24 L1056.05,245.10 L1056.78,245.01 L1057.50,244.46 L1058.67,242.13 L1059.68,239.53 L1060.57,237.10 L1061.41,233.61 L1062.23,230.07 L1063.10,227.29 L1064.07,224.53 L1065.03,220.82 L1065.97,217.89 L1066.91,214.69 L1067.85,210.86 L1068.80,207.16 L1069.53,208.58 L1070.26,210.45 L1071.00,212.20 L1071.73,213.49 L1072.43,215.03 L1073.10,216.17 L1073.65,217.68 L1074.13,218.72 L1074.60,220.03 L1075.09,220.99 L1075.64,222.13 L1076.30,223.66 L1077.14,224.69 L1078.07,225.89 L1079.07,227.52 L1080.13,228.44 L1081.21,230.56 L1082.30,231.28 L1083.70,232.75 L1085.14,235.35 L1086.62,237.51 L1088.16,239.44 L1089.75,242.06 L1091.40,243.27 L1092.90,243.77 L1094.52,245.89 L1096.18,246.32 L1097.80,247.78 L1099.30,248.04 L1100.60,248.95 L1101.55,250.81 L1102.37,251.09 L1103.09,252.60 L1103.76,254.19 L1104.41,255.13 L1105.10,256.58 L1106.22,259.47 L1107.31,263.00 L1108.36,266.14 L1109.40,270.36 L1110.44,274.14 L1111.50,278.30 L1112.70,275.82 L1113.87,273.95 L1115.05,272.76 L1116.24,270.74 L1117.49,269.29 L1118.80,267.64 L1120.24,266.17 L1121.75,263.65 L1123.31,261.88 L1124.89,259.45 L1126.46,258.71 L1128.00,258.86 L1129.25,258.26 L1130.51,258.68 L1131.77,259.25 L1133.00,260.75 L1134.19,261.78 L1135.30,262.64 L1136.94,265.82 L1138.39,269.06 L1139.70,273.06 L1140.94,276.75 L1142.19,281.57 L1143.50,285.02 L1144.11,281.69 L1144.74,278.42 L1145.36,275.36 L1145.98,272.52 L1146.56,268.94 L1147.10,266.02 L1147.58,261.87 L1147.93,257.75 L1148.24,253.17 L1148.62,248.69 L1149.14,244.40 L1149.90,242.09 L1150.42,241.04 L1150.99,239.86 L1151.61,239.12 L1152.25,238.01 L1152.88,237.25 L1153.50,236.22 L1154.55,238.32 L1155.59,239.41 L1156.63,240.67 L1157.68,241.83 L1158.77,243.49 L1159.90,245.13 L1160.91,245.76 L1161.94,246.30 L1162.99,247.77 L1164.06,248.47 L1165.17,248.87 L1166.30,249.14 L1167.49,249.35 L1168.75,249.10 L1170.04,248.93 L1171.31,248.07 L1172.51,248.22 L1173.60,247.17 L1174.72,246.68 L1175.72,244.14 L1176.62,243.46 L1177.46,241.91 L1178.28,239.83 L1179.10,238.44 L1179.98,236.74 L1180.82,234.84 L1181.62,232.60 L1182.41,230.79 L1183.20,229.21 L1184.00,227.38 L1184.72,228.60 L1185.46,230.14 L1186.20,231.72 L1186.92,233.54 L1187.59,234.52 L1188.20,236.10 L1188.76,238.39 L1189.24,239.90 L1189.66,241.99 L1190.06,244.18 L1190.46,246.38 L1190.90,248.08 L1191.50,251.58 L1192.11,253.94 L1192.73,257.91 L1193.36,260.59 L1193.98,263.99 L1194.60,267.79 L1195.15,270.89 L1195.63,274.60 L1196.12,278.51 L1196.66,282.16 L1197.34,284.53 L1198.20,285.79 L1198.62,286.18 L1199.08,285.50 L1199.55,285.28 L1200.04,284.90 L1200.52,285.04 L1201.00,284.70" fill="none" stroke="#111" stroke-width="3.0" stroke-linejoin="round" stroke-linecap="round" />
<path d="M1205.50,263.14 L1209.21,262.86 L1212.88,262.93 L1216.55,263.34 L1220.26,263.08 L1224.06,263.58 L1228.00,263.72 L1232.74,263.56 L1237.64,264.10 L1242.66,264.46 L1247.75,265.37 L1252.88,265.89 L1258.00,265.22 L1263.56,265.21 L1269.45,264.34 L1275.38,264.81 L1281.05,264.45 L1286.19,263.86 L1290.50,264.24 L1292.39,263.48 L1294.01,263.86 L1295.48,263.96 L1296.90,263.52 L1298.37,264.12 L1300.00,264.12 L1302.25,263.27 L1304.64,263.13 L1307.12,263.57 L1309.61,263.20 L1312.06,262.65 L1314.40,262.71 L1316.44,262.60 L1318.49,262.45 L1320.51,262.60 L1322.44,262.26 L1324.25,262.37 L1325.90,261.81 L1326.99,261.14 L1327.95,260.70 L1328.84,260.16 L1329.72,259.35 L1330.65,258.16 L1331.70,258.26 L1333.16,257.39 L1334.76,257.20 L1336.44,256.12 L1338.14,255.75 L1339.78,255.37 L1341.30,255.70 L1342.48,255.45 L1343.58,255.72 L1344.65,256.42 L1345.72,256.79 L1346.82,257.55 L1348.00,258.00 L1349.50,258.64 L1351.10,259.74 L1352.75,259.64 L1354.41,260.28 L1356.04,260.54 L1357.60,260.90 L1358.95,260.23 L1360.28,260.11 L1361.58,259.90 L1362.86,259.55 L1364.10,258.73 L1365.30,257.85 L1366.66,256.65 L1367.96,255.72 L1369.20,254.50 L1370.43,252.58 L1371.65,250.96 L1372.90,249.53 L1373.86,249.90 L1374.83,250.87 L1375.79,251.65 L1376.75,252.61 L1377.72,253.33 L1378.70,253.84 L1379.80,255.65 L1380.89,257.07 L1381.99,257.78 L1383.10,259.21 L1384.24,260.22 L1385.40,261.14 L1386.32,260.86 L1387.25,262.09 L1388.19,261.65 L1389.15,262.25 L1390.15,261.86 L1391.20,261.58 L1392.82,261.21 L1394.57,260.77 L1396.39,259.27 L1398.23,258.31 L1400.02,257.11 L1401.70,255.59 L1403.25,255.33 L1404.72,253.87 L1406.15,252.38 L1407.56,251.40 L1408.97,249.42 L1410.40,248.38 L1411.51,250.25 L1412.61,251.43 L1413.72,251.86 L1414.83,252.87 L1415.95,254.77 L1417.10,256.42 L1418.03,256.66 L1418.96,257.37 L1419.91,258.19 L1420.86,258.20 L1421.83,258.87 L1422.80,259.24 L1423.75,259.19 L1424.71,259.09 L1425.68,258.59 L1426.66,258.63 L1427.63,257.95 L1428.60,257.99 L1429.85,257.44 L1431.05,255.17 L1432.25,253.29 L1433.49,252.38 L1434.83,251.38 L1436.30,250.72 L1438.05,250.23 L1440.00,249.43 L1442.05,249.40 L1444.10,250.16 L1446.05,249.72 L1447.80,250.73 L1449.03,250.74 L1450.13,251.61 L1451.17,252.24 L1452.20,252.92 L1453.29,253.51 L1454.50,253.40 L1456.11,254.05 L1457.86,254.04 L1459.69,254.09 L1461.54,254.32 L1463.36,253.90 L1465.10,253.99 L1466.67,254.45 L1468.19,255.24 L1469.69,256.30 L1471.18,256.53 L1472.67,257.64 L1474.20,257.59 L1475.81,257.28 L1477.44,256.51 L1479.07,256.35 L1480.72,255.76 L1482.36,254.30 L1484.00,254.56 L1485.82,255.80 L1487.59,256.59 L1489.37,257.81 L1491.19,259.49 L1493.08,260.08 L1495.10,260.13 L1497.54,260.88 L1500.17,261.10 L1502.90,261.16 L1505.64,260.38 L1508.30,261.04 L1510.80,260.21 L1512.92,259.97 L1515.01,259.28 L1517.03,258.86 L1518.96,257.65 L1520.80,256.50 L1522.50,255.76 L1524.05,254.66 L1525.48,252.55 L1526.79,251.32 L1528.04,249.20 L1529.23,247.23 L1530.40,246.26 L1531.34,244.35 L1532.22,243.75 L1533.07,242.18 L1533.91,241.36 L1534.75,239.75 L1535.60,238.75 L1536.37,240.31 L1537.13,241.01 L1537.90,241.94 L1538.66,242.78 L1539.43,244.10 L1540.20,244.68 L1541.11,246.40 L1541.95,248.53 L1542.79,250.25 L1543.70,252.19 L1544.75,254.12 L1546.00,255.56 L1547.44,256.70 L1549.03,258.26 L1550.75,258.91 L1552.59,259.69 L1554.51,259.91 L1556.50,260.25 L1559.13,260.41 L1562.04,261.00 L1565.07,260.56 L1568.09,260.92 L1570.95,261.06 L1573.50,260.89 L1575.26,260.27 L1576.94,259.23 L1578.52,259.04 L1580.00,257.93 L1581.36,257.52 L1582.60,256.17 L1583.81,254.97 L1584.82,253.74 L1585.68,251.29 L1586.44,249.60 L1587.17,246.73 L1587.90,244.30 L1588.82,241.65 L1589.64,238.30 L1590.39,233.97 L1591.10,230.47 L1591.79,226.43 L1592.50,223.44 L1593.10,221.12 L1593.69,218.29 L1594.27,215.67 L1594.85,212.98 L1595.42,211.08 L1596.00,208.74 L1596.60,210.51 L1597.21,212.20 L1597.81,213.54 L1598.41,216.28 L1599.01,217.61 L1599.60,219.56 L1600.26,222.30 L1600.88,224.07 L1601.50,227.42 L1602.13,230.11 L1602.82,232.91 L1603.60,235.70 L1604.34,237.57 L1605.09,238.97 L1605.89,241.45 L1606.76,243.56 L1607.72,245.40 L1608.80,246.72 L1609.97,248.10 L1611.32,250.16 L1612.74,251.41 L1614.15,252.55 L1615.47,253.23 L1616.60,255.43 L1617.24,254.83 L1617.77,256.39 L1618.25,257.89 L1618.74,257.94 L1619.30,258.71 L1620.00,258.85 L1620.99,260.16 L1622.10,259.82 L1623.32,260.64 L1624.60,260.87 L1625.94,260.69 L1627.30,261.37 L1629.14,260.54 L1631.17,260.32 L1633.28,259.95 L1635.36,259.27 L1637.30,259.13 L1639.00,259.18 L1639.95,258.98 L1640.78,259.20 L1641.54,259.58 L1642.30,260.01 L1643.13,260.71 L1644.10,260.63 L1645.90,261.05 L1648.02,261.05 L1650.29,260.88 L1652.56,261.30 L1654.68,260.46 L1656.50,260.30 L1657.70,260.21 L1658.79,258.76 L1659.79,258.29 L1660.72,256.97 L1661.58,256.38 L1662.40,255.15 L1663.13,254.48 L1663.76,253.30 L1664.33,252.33 L1664.87,251.59 L1665.45,250.08 L1666.10,249.20 L1666.72,248.23 L1667.38,247.48 L1668.05,246.65 L1668.74,245.73 L1669.42,245.67 L1670.10,245.49 L1670.76,245.92 L1671.43,246.40 L1672.09,247.83 L1672.75,247.99 L1673.42,248.72 L1674.10,249.34 L1674.80,250.27 L1675.48,251.37 L1676.17,252.93 L1676.89,253.15 L1677.66,253.76 L1678.50,254.72 L1679.55,255.78 L1680.68,256.29 L1681.87,257.77 L1683.12,258.81 L1684.43,259.47 L1685.80,260.18 L1687.39,260.15 L1689.13,260.46 L1690.94,261.67 L1692.74,261.80 L1694.45,261.05 L1696.00,261.46 L1697.09,261.17 L1698.09,260.96 L1699.05,260.41 L1699.98,259.70 L1700.92,259.41 L1701.90,258.95 L1702.98,258.39 L1704.07,257.28 L1705.18,256.37 L1706.29,256.54 L1707.40,255.94 L1708.50,256.38 L1709.60,256.66 L1710.70,256.88 L1711.80,257.20 L1712.89,257.91 L1713.96,258.79 L1715.00,258.68 L1715.88,259.54 L1716.74,259.85 L1717.58,260.09 L1718.41,260.77 L1719.25,260.36 L1720.10,260.98 L1720.99,260.39 L1721.93,260.26 L1722.87,259.92 L1723.77,260.10 L1724.59,259.45 L1725.30,259.62 L1725.64,259.23 L1725.93,259.89 L1726.21,260.12 L1726.47,259.65 L1726.73,260.09 L1727.00,259.77" fill="none" stroke="#111" stroke-width="3.5" stroke-linejoin="round" stroke-linecap="round" />
<line x1="91.20" y1="65.50" x2="127.20" y2="65.50" stroke="#000" stroke-width="1.45" />
<line x1="95.30" y1="72.30" x2="123.00" y2="72.30" stroke="#000" stroke-width="1.45" />
<line x1="91.20" y1="65.50" x2="64.10" y2="41.90" stroke="#000" stroke-width="1.45" />
<line x1="127.20" y1="65.50" x2="141.70" y2="49.20" stroke="#000" stroke-width="1.45" />
<line x1="127.20" y1="65.50" x2="137.60" y2="99.80" stroke="#000" stroke-width="1.45" />
<line x1="137.30" y1="96.50" x2="162.30" y2="101.50" stroke="#000" stroke-width="1.45" />
<line x1="136.80" y1="102.80" x2="161.20" y2="107.90" stroke="#000" stroke-width="1.45" />
<line x1="137.60" y1="99.80" x2="119.10" y2="113.40" stroke="#000" stroke-width="1.45" />
<line x1="79.70" y1="100.00" x2="98.90" y2="113.40" stroke="#000" stroke-width="1.45" />
<line x1="91.20" y1="65.50" x2="79.70" y2="100.00" stroke="#000" stroke-width="1.45" />
<line x1="75.19" y1="100.47" x2="75.83" y2="102.36" stroke="#000" stroke-width="1.5" />
<line x1="67.73" y1="102.25" x2="68.81" y2="105.47" stroke="#000" stroke-width="1.5" />
<line x1="60.26" y1="104.04" x2="61.80" y2="108.59" stroke="#000" stroke-width="1.5" />
<line x1="52.79" y1="105.82" x2="54.78" y2="111.70" stroke="#000" stroke-width="1.5" />
<line x1="45.33" y1="107.61" x2="47.76" y2="114.81" stroke="#000" stroke-width="1.5" />
<line x1="361.70" y1="58.50" x2="397.70" y2="58.50" stroke="#000" stroke-width="1.45" />
<line x1="365.80" y1="65.30" x2="393.50" y2="65.30" stroke="#000" stroke-width="1.45" />
<line x1="361.70" y1="58.50" x2="334.60" y2="34.90" stroke="#000" stroke-width="1.45" />
<line x1="397.70" y1="58.50" x2="412.20" y2="42.20" stroke="#000" stroke-width="1.45" />
<line x1="397.70" y1="58.50" x2="408.10" y2="92.80" stroke="#000" stroke-width="1.45" />
<line x1="407.80" y1="89.50" x2="432.80" y2="94.50" stroke="#000" stroke-width="1.45" />
<line x1="407.30" y1="95.80" x2="431.70" y2="100.90" stroke="#000" stroke-width="1.45" />
<line x1="408.10" y1="92.80" x2="389.60" y2="106.40" stroke="#000" stroke-width="1.45" />
<line x1="350.20" y1="93.00" x2="369.40" y2="106.40" stroke="#000" stroke-width="1.45" />
<line x1="361.70" y1="58.50" x2="350.20" y2="93.00" stroke="#000" stroke-width="1.45" />
<line x1="345.69" y1="93.47" x2="346.33" y2="95.36" stroke="#000" stroke-width="1.5" />
<line x1="338.23" y1="95.25" x2="339.31" y2="98.47" stroke="#000" stroke-width="1.5" />
<line x1="330.76" y1="97.04" x2="332.30" y2="101.59" stroke="#000" stroke-width="1.5" />
<line x1="323.29" y1="98.82" x2="325.28" y2="104.70" stroke="#000" stroke-width="1.5" />
<line x1="315.83" y1="100.61" x2="318.26" y2="107.81" stroke="#000" stroke-width="1.5" />
<line x1="316.40" y1="104.20" x2="284.30" y2="85.40" stroke="#000" stroke-width="1.45" />
<line x1="58.70" y1="333.50" x2="92.70" y2="322.90" stroke="#000" stroke-width="1.45" />
<line x1="64.40" y1="337.80" x2="90.60" y2="330.30" stroke="#000" stroke-width="1.45" />
<line x1="58.70" y1="333.50" x2="29.20" y2="312.70" stroke="#000" stroke-width="1.45" />
<line x1="92.70" y1="322.90" x2="100.10" y2="301.60" stroke="#000" stroke-width="1.45" />
<line x1="92.70" y1="322.90" x2="114.00" y2="351.90" stroke="#000" stroke-width="1.45" />
<line x1="114.00" y1="351.90" x2="137.30" y2="351.90" stroke="#000" stroke-width="1.45" />
<line x1="116.40" y1="345.30" x2="137.30" y2="345.30" stroke="#000" stroke-width="1.45" />
<line x1="114.00" y1="351.90" x2="100.00" y2="372.00" stroke="#000" stroke-width="1.45" />
<line x1="58.40" y1="369.00" x2="81.30" y2="377.20" stroke="#000" stroke-width="1.45" />
<line x1="58.70" y1="333.50" x2="58.40" y2="369.00" stroke="#000" stroke-width="1.45" />
<line x1="53.83" y1="371.39" x2="55.08" y2="372.95" stroke="#000" stroke-width="1.5" />
<line x1="47.91" y1="375.08" x2="50.20" y2="377.94" stroke="#000" stroke-width="1.5" />
<line x1="41.98" y1="378.77" x2="45.32" y2="382.93" stroke="#000" stroke-width="1.5" />
<line x1="36.06" y1="382.46" x2="40.44" y2="387.92" stroke="#000" stroke-width="1.5" />
<line x1="115.60" y1="288.60" x2="128.50" y2="288.60" stroke="#000" stroke-width="1.45" />
<line x1="142" y1="301.4" x2="147.9" y2="340.4" stroke="#000" stroke-width="1.45" stroke-dasharray="6 4.5"/>
<line x1="161.80" y1="338.30" x2="220.00" y2="338.30" stroke="#000" stroke-width="1.6" />
<path d="M232,338.3 L216.4,333.9 L219.4,338.3 L216.4,342.7 Z" fill="#000"/>
<line x1="315.30" y1="309.20" x2="349.20" y2="320.90" stroke="#000" stroke-width="1.45" />
<line x1="536.70" y1="365.60" x2="502.80" y2="353.90" stroke="#000" stroke-width="1.45" />
<line x1="317.10" y1="316.40" x2="343.00" y2="325.50" stroke="#000" stroke-width="1.45" />
<line x1="534.90" y1="358.40" x2="509.00" y2="349.30" stroke="#000" stroke-width="1.45" />
<line x1="315.30" y1="309.20" x2="304.80" y2="274.60" stroke="#000" stroke-width="1.45" />
<line x1="536.70" y1="365.60" x2="547.20" y2="400.20" stroke="#000" stroke-width="1.45" />
<line x1="349.20" y1="320.90" x2="367.30" y2="308.20" stroke="#000" stroke-width="1.45" />
<line x1="502.80" y1="353.90" x2="484.70" y2="366.60" stroke="#000" stroke-width="1.45" />
<line x1="349.20" y1="320.90" x2="348.30" y2="355.80" stroke="#000" stroke-width="1.45" />
<line x1="502.80" y1="353.90" x2="503.70" y2="319.00" stroke="#000" stroke-width="1.45" />
<line x1="348.30" y1="355.80" x2="366.40" y2="369.50" stroke="#000" stroke-width="1.45" />
<line x1="503.70" y1="319.00" x2="485.60" y2="305.30" stroke="#000" stroke-width="1.45" />
<line x1="354.10" y1="353.00" x2="370.60" y2="364.90" stroke="#000" stroke-width="1.45" />
<line x1="497.90" y1="321.80" x2="481.40" y2="309.90" stroke="#000" stroke-width="1.45" />
<line x1="293.60" y1="337.20" x2="306.90" y2="356.70" stroke="#000" stroke-width="1.45" />
<line x1="558.40" y1="337.60" x2="545.10" y2="318.10" stroke="#000" stroke-width="1.45" />
<line x1="325.20" y1="363.10" x2="348.30" y2="355.80" stroke="#000" stroke-width="1.45" />
<line x1="526.80" y1="311.70" x2="503.70" y2="319.00" stroke="#000" stroke-width="1.45" />
<line x1="315.30" y1="309.20" x2="293.60" y2="337.20" stroke="#000" stroke-width="1.45" />
<line x1="536.70" y1="365.60" x2="558.40" y2="337.60" stroke="#000" stroke-width="1.45" />
<line x1="270.20" y1="332.30" x2="270.20" y2="340.60" stroke="#000" stroke-width="1.6" />
<line x1="581.80" y1="342.50" x2="581.80" y2="334.20" stroke="#000" stroke-width="1.6" />
<line x1="278.90" y1="333.40" x2="278.90" y2="339.50" stroke="#000" stroke-width="1.6" />
<line x1="573.10" y1="341.40" x2="573.10" y2="335.30" stroke="#000" stroke-width="1.6" />
<line x1="286.80" y1="335.60" x2="286.80" y2="338.50" stroke="#000" stroke-width="1.6" />
<line x1="565.20" y1="339.20" x2="565.20" y2="336.30" stroke="#000" stroke-width="1.6" />
<line x1="390.70" y1="300.40" x2="406.90" y2="300.40" stroke="#000" stroke-width="1.45" />
<line x1="427.2" y1="300.4" x2="461.5" y2="300.4" stroke="#000" stroke-width="1.45" stroke-dasharray="7 6"/>
<line x1="388.5" y1="377.4" x2="429.8" y2="377.4" stroke="#000" stroke-width="1.45" stroke-dasharray="6.5 5"/>
<line x1="449.90" y1="377.40" x2="464.60" y2="377.40" stroke="#000" stroke-width="1.45" />
<text transform="translate(5.18,32.80) scale(1.0231,1.0000) skewX(0.01)" font-family="'Liberation Sans', Arial, Helvetica, sans-serif" font-size="38.5" font-weight="bold" font-style="normal" fill="#000" xml:space="preserve" stroke="#000" stroke-width="0.25">A</text>
<text transform="translate(633.78,32.80) scale(1.0391,1.0000) skewX(0.01)" font-family="'Liberation Sans', Arial, Helvetica, sans-serif" font-size="38.5" font-weight="bold" font-style="normal" fill="#000" xml:space="preserve" stroke="#000" stroke-width="0.25">B</text>
<text transform="translate(750.16,462.40) scale(0.9700,1.0000) skewX(0.01)" font-family="'Liberation Sans', Arial, Helvetica, sans-serif" font-size="18.7" font-weight="normal" font-style="normal" fill="#000" xml:space="preserve" stroke="#000" stroke-width="0.25"><tspan font-family="'NanumGothic', 'Liberation Sans', sans-serif" stroke="#000" stroke-width="0.45">1</tspan>500</text>
<text transform="translate(927.14,460.10) scale(0.9800,1.0000) skewX(0.01)" font-family="'Liberation Sans', Arial, Helvetica, sans-serif" font-size="18.7" font-weight="normal" font-style="normal" fill="#000" xml:space="preserve" stroke="#000" stroke-width="0.25"><tspan font-family="'NanumGothic', 'Liberation Sans', sans-serif" stroke="#000" stroke-width="0.45">1</tspan>300</text>
<text transform="translate(1098.07,461.20) scale(0.9146,1.0000) skewX(0.01)" font-family="'Liberation Sans', Arial, Helvetica, sans-serif" font-size="18.7" font-weight="normal" font-style="normal" fill="#000" xml:space="preserve" stroke="#000" stroke-width="0.25"><tspan font-family="'NanumGothic', 'Liberation Sans', sans-serif" stroke="#000" stroke-width="0.45">1</tspan><tspan font-family="'NanumGothic', 'Liberation Sans', sans-serif" stroke="#000" stroke-width="0.45">1</tspan>00</text>
<text transform="translate(1272.84,459.70) scale(0.9800,1.0000) skewX(0.01)" font-family="'Liberation Sans', Arial, Helvetica, sans-serif" font-size="18.7" font-weight="normal" font-style="normal" fill="#000" xml:space="preserve" stroke="#000" stroke-width="0.25"><tspan font-family="'NanumGothic', 'Liberation Sans', sans-serif" stroke="#000" stroke-width="0.45">1</tspan>500</text>
<text transform="translate(1450.23,462.40) scale(0.9875,1.0000) skewX(0.01)" font-family="'Liberation Sans', Arial, Helvetica, sans-serif" font-size="18.7" font-weight="normal" font-style="normal" fill="#000" xml:space="preserve" stroke="#000" stroke-width="0.25"><tspan font-family="'NanumGothic', 'Liberation Sans', sans-serif" stroke="#000" stroke-width="0.45">1</tspan>300</text>
<text transform="translate(1625.54,464.90) scale(0.9293,1.0000) skewX(0.01)" font-family="'Liberation Sans', Arial, Helvetica, sans-serif" font-size="18.7" font-weight="normal" font-style="normal" fill="#000" xml:space="preserve" stroke="#000" stroke-width="0.25"><tspan font-family="'NanumGothic', 'Liberation Sans', sans-serif" stroke="#000" stroke-width="0.45">1</tspan><tspan font-family="'NanumGothic', 'Liberation Sans', sans-serif" stroke="#000" stroke-width="0.45">1</tspan>00</text>
<text transform="translate(885.50,484.00) scale(0.9851,1.0000) skewX(0.01)" font-family="'Liberation Sans', Arial, Helvetica, sans-serif" font-size="19.1" font-weight="normal" font-style="normal" fill="#000" xml:space="preserve" stroke="#000" stroke-width="0.25">Wavelength (cm<tspan dy="-7.5" font-size="12.5">-<tspan font-family="'NanumGothic', 'Liberation Sans', sans-serif" stroke="#000" stroke-width="0.45">1</tspan></tspan><tspan dy="7.5">)</tspan></text>
<text transform="translate(1410.20,488.90) scale(0.9896,1.0000) skewX(0.01)" font-family="'Liberation Sans', Arial, Helvetica, sans-serif" font-size="19.1" font-weight="normal" font-style="normal" fill="#000" xml:space="preserve" stroke="#000" stroke-width="0.25">Wavelength (cm<tspan dy="-7.5" font-size="12.5">-<tspan font-family="'NanumGothic', 'Liberation Sans', sans-serif" stroke="#000" stroke-width="0.45">1</tspan></tspan><tspan dy="7.5">)</tspan></text>
<text transform="translate(874.20,22.30) scale(0.9265,1.0000) skewX(0.01)" font-family="'Liberation Sans', Arial, Helvetica, sans-serif" font-size="19.9" font-weight="normal" font-style="normal" fill="#000" xml:space="preserve" stroke="#000" stroke-width="0.25">VCD spectra</text>
<text transform="translate(1408.95,22.90) scale(0.9270,1.0000) skewX(0.01)" font-family="'Liberation Sans', Arial, Helvetica, sans-serif" font-size="19.9" font-weight="normal" font-style="normal" fill="#000" xml:space="preserve" stroke="#000" stroke-width="0.25">IR spectra</text>
<text transform="translate(662.20,114.60) scale(1.2000,1.0000) skewX(0.01)" font-family="'Liberation Sans', Arial, Helvetica, sans-serif" font-size="22" font-weight="normal" font-style="normal" fill="#000" xml:space="preserve" stroke="#000" stroke-width="0.25">ε</text>
<text transform="translate(662.20,244.80) scale(1.2000,1.0000) skewX(0.01)" font-family="'Liberation Sans', Arial, Helvetica, sans-serif" font-size="22" font-weight="normal" font-style="normal" fill="#000" xml:space="preserve" stroke="#000" stroke-width="0.25">ε</text>
<text transform="translate(667.00,376.50) scale(1.2000,1.0000) skewX(0.01)" font-family="'Liberation Sans', Arial, Helvetica, sans-serif" font-size="22" font-weight="normal" font-style="normal" fill="#000" xml:space="preserve" stroke="#000" stroke-width="0.25">ε</text>
<text transform="translate(1741.50,115.20) scale(1.2000,1.0000) skewX(0.01)" font-family="'Liberation Sans', Arial, Helvetica, sans-serif" font-size="22" font-weight="normal" font-style="normal" fill="#000" xml:space="preserve" stroke="#000" stroke-width="0.25">ε</text>
<text transform="translate(1740.18,247.10) scale(1.2250,1.0000) skewX(0.01)" font-family="'Liberation Sans', Arial, Helvetica, sans-serif" font-size="22" font-weight="normal" font-style="normal" fill="#000" xml:space="preserve" stroke="#000" stroke-width="0.25">ε</text>
<text transform="translate(1742.59,371.20) scale(1.2125,1.0000) skewX(0.01)" font-family="'Liberation Sans', Arial, Helvetica, sans-serif" font-size="22" font-weight="normal" font-style="normal" fill="#000" xml:space="preserve" stroke="#000" stroke-width="0.25">ε</text>
<text transform="translate(688.55,138.50) scale(0.9533,1.0000) skewX(0.01)" font-family="'Liberation Serif', 'Times New Roman', serif" font-size="22.8" font-weight="normal" font-style="normal" fill="#000" xml:space="preserve" stroke="#000" stroke-width="0.25">Calcd. for (<tspan font-style="italic">R</tspan>)-<tspan font-weight="bold">106</tspan></text>
<text transform="translate(705.54,204.50) scale(0.9563,1.0000) skewX(0.01)" font-family="'Liberation Serif', 'Times New Roman', serif" font-size="22.8" font-weight="normal" font-style="normal" fill="#000" xml:space="preserve" stroke="#000" stroke-width="0.25">Exp. for (-)-<tspan font-weight="bold">106</tspan></text>
<text transform="translate(689.80,334.50) scale(0.9508,1.0000) skewX(0.01)" font-family="'Liberation Serif', 'Times New Roman', serif" font-size="22.8" font-weight="normal" font-style="normal" fill="#000" xml:space="preserve" stroke="#000" stroke-width="0.25">Calcd. for (<tspan font-style="italic">R</tspan>)-<tspan font-weight="bold">106a</tspan></text>
<text transform="translate(1217.55,74.50) scale(0.9533,1.0000) skewX(0.01)" font-family="'Liberation Serif', 'Times New Roman', serif" font-size="22.8" font-weight="normal" font-style="normal" fill="#000" xml:space="preserve" stroke="#000" stroke-width="0.25">Calcd. for (<tspan font-style="italic">R</tspan>)-<tspan font-weight="bold">106</tspan></text>
<text transform="translate(1217.55,214.00) scale(0.9545,1.0000) skewX(0.01)" font-family="'Liberation Serif', 'Times New Roman', serif" font-size="22.8" font-weight="normal" font-style="normal" fill="#000" xml:space="preserve" stroke="#000" stroke-width="0.25">Exp. for (-)-<tspan font-weight="bold">106</tspan></text>
<text transform="translate(1210.80,341.00) scale(0.9480,1.0000) skewX(0.01)" font-family="'Liberation Serif', 'Times New Roman', serif" font-size="22.8" font-weight="normal" font-style="normal" fill="#000" xml:space="preserve" stroke="#000" stroke-width="0.25">Calcd. for (<tspan font-style="italic">R</tspan>)-<tspan font-weight="bold">106a</tspan></text>
<text transform="translate(770.25,89.20) scale(1.0000,1.0000) skewX(0.01)" font-family="'Liberation Serif', 'Times New Roman', serif" font-size="18.0" font-weight="normal" font-style="normal" fill="#ff0000" xml:space="preserve" stroke="#ff0000" stroke-width="0.45">8</text>
<text transform="translate(849.00,100.20) scale(1.0000,1.0000) skewX(0.01)" font-family="'Liberation Serif', 'Times New Roman', serif" font-size="18.0" font-weight="normal" font-style="normal" fill="#ff0000" xml:space="preserve" stroke="#ff0000" stroke-width="0.45">7</text>
<text transform="translate(899.75,61.70) scale(1.0000,1.0000) skewX(0.01)" font-family="'Liberation Serif', 'Times New Roman', serif" font-size="18.0" font-weight="normal" font-style="normal" fill="#ff0000" xml:space="preserve" stroke="#ff0000" stroke-width="0.45">6</text>
<text transform="translate(998.62,66.20) scale(1.0000,1.0000) skewX(0.01)" font-family="'Liberation Serif', 'Times New Roman', serif" font-size="18.0" font-weight="normal" font-style="normal" fill="#ff0000" xml:space="preserve" stroke="#ff0000" stroke-width="0.45">5</text>
<text transform="translate(1071.50,63.70) scale(1.0000,1.0000) skewX(0.01)" font-family="'Liberation Serif', 'Times New Roman', serif" font-size="18.0" font-weight="normal" font-style="normal" fill="#ff0000" xml:space="preserve" stroke="#ff0000" stroke-width="0.45">4</text>
<text transform="translate(1127.00,66.20) scale(1.0000,1.0000) skewX(0.01)" font-family="'Liberation Serif', 'Times New Roman', serif" font-size="18.0" font-weight="normal" font-style="normal" fill="#ff0000" xml:space="preserve" stroke="#ff0000" stroke-width="0.45">2</text>
<text transform="translate(1162.50,69.20) scale(1.0000,1.0000) skewX(0.01)" font-family="'Liberation Serif', 'Times New Roman', serif" font-size="18.0" font-weight="normal" font-style="normal" fill="#ff0000" xml:space="preserve" stroke="#ff0000" stroke-width="0.45">1</text>
<text transform="translate(1090.12,163.70) scale(1.0000,1.0000) skewX(0.01)" font-family="'Liberation Serif', 'Times New Roman', serif" font-size="18.0" font-weight="normal" font-style="normal" fill="#ff0000" xml:space="preserve" stroke="#ff0000" stroke-width="0.45">3</text>
<text transform="translate(1135.88,169.20) scale(1.0000,1.0000) skewX(0.01)" font-family="'Liberation Serif', 'Times New Roman', serif" font-size="18.0" font-weight="normal" font-style="normal" fill="#ff0000" xml:space="preserve" stroke="#ff0000" stroke-width="0.45">2'</text>
<text transform="translate(808.12,227.20) scale(1.0000,1.0000) skewX(0.01)" font-family="'Liberation Serif', 'Times New Roman', serif" font-size="18.0" font-weight="normal" font-style="normal" fill="#ff0000" xml:space="preserve" stroke="#ff0000" stroke-width="0.45">8</text>
<text transform="translate(870.25,227.20) scale(1.0000,1.0000) skewX(0.01)" font-family="'Liberation Serif', 'Times New Roman', serif" font-size="18.0" font-weight="normal" font-style="normal" fill="#ff0000" xml:space="preserve" stroke="#ff0000" stroke-width="0.45">7</text>
<text transform="translate(930.88,195.45) scale(1.0000,1.0000) skewX(0.01)" font-family="'Liberation Serif', 'Times New Roman', serif" font-size="18.0" font-weight="normal" font-style="normal" fill="#ff0000" xml:space="preserve" stroke="#ff0000" stroke-width="0.45">6</text>
<text transform="translate(1006.75,214.70) scale(1.0000,1.0000) skewX(0.01)" font-family="'Liberation Serif', 'Times New Roman', serif" font-size="18.0" font-weight="normal" font-style="normal" fill="#ff0000" xml:space="preserve" stroke="#ff0000" stroke-width="0.45">5</text>
<text transform="translate(1066.75,199.20) scale(1.0000,1.0000) skewX(0.01)" font-family="'Liberation Serif', 'Times New Roman', serif" font-size="18.0" font-weight="normal" font-style="normal" fill="#ff0000" xml:space="preserve" stroke="#ff0000" stroke-width="0.45">4</text>
<text transform="translate(1134.50,237.95) scale(1.0000,1.0000) skewX(0.01)" font-family="'Liberation Serif', 'Times New Roman', serif" font-size="18.0" font-weight="normal" font-style="normal" fill="#ff0000" xml:space="preserve" stroke="#ff0000" stroke-width="0.45">2</text>
<text transform="translate(1175.62,222.95) scale(1.0000,1.0000) skewX(0.01)" font-family="'Liberation Serif', 'Times New Roman', serif" font-size="18.0" font-weight="normal" font-style="normal" fill="#ff0000" xml:space="preserve" stroke="#ff0000" stroke-width="0.45">1</text>
<text transform="translate(1106.50,295.95) scale(1.0000,1.0000) skewX(0.01)" font-family="'Liberation Serif', 'Times New Roman', serif" font-size="18.0" font-weight="normal" font-style="normal" fill="#ff0000" xml:space="preserve" stroke="#ff0000" stroke-width="0.45">3</text>
<text transform="translate(1148.62,302.95) scale(1.0000,1.0000) skewX(0.01)" font-family="'Liberation Serif', 'Times New Roman', serif" font-size="18.0" font-weight="normal" font-style="normal" fill="#ff0000" xml:space="preserve" stroke="#ff0000" stroke-width="0.45">2'</text>
<text transform="translate(761.75,372.95) scale(1.0000,1.0000) skewX(0.01)" font-family="'Liberation Serif', 'Times New Roman', serif" font-size="18.0" font-weight="normal" font-style="normal" fill="#ff0000" xml:space="preserve" stroke="#ff0000" stroke-width="0.45">8</text>
<text transform="translate(829.88,374.95) scale(1.0000,1.0000) skewX(0.01)" font-family="'Liberation Serif', 'Times New Roman', serif" font-size="18.0" font-weight="normal" font-style="normal" fill="#ff0000" xml:space="preserve" stroke="#ff0000" stroke-width="0.45">7</text>
<text transform="translate(896.50,344.70) scale(1.0000,1.0000) skewX(0.01)" font-family="'Liberation Serif', 'Times New Roman', serif" font-size="18.0" font-weight="normal" font-style="normal" fill="#ff0000" xml:space="preserve" stroke="#ff0000" stroke-width="0.45">6</text>
<text transform="translate(982.62,362.20) scale(1.0000,1.0000) skewX(0.01)" font-family="'Liberation Serif', 'Times New Roman', serif" font-size="18.0" font-weight="normal" font-style="normal" fill="#ff0000" xml:space="preserve" stroke="#ff0000" stroke-width="0.45">5</text>
<text transform="translate(1066.75,333.70) scale(1.0000,1.0000) skewX(0.01)" font-family="'Liberation Serif', 'Times New Roman', serif" font-size="18.0" font-weight="normal" font-style="normal" fill="#ff0000" xml:space="preserve" stroke="#ff0000" stroke-width="0.45">4</text>
<text transform="translate(1129.62,365.45) scale(1.0000,1.0000) skewX(0.01)" font-family="'Liberation Serif', 'Times New Roman', serif" font-size="18.0" font-weight="normal" font-style="normal" fill="#ff0000" xml:space="preserve" stroke="#ff0000" stroke-width="0.45">2</text>
<text transform="translate(1163.88,339.70) scale(1.0000,1.0000) skewX(0.01)" font-family="'Liberation Serif', 'Times New Roman', serif" font-size="18.0" font-weight="normal" font-style="normal" fill="#ff0000" xml:space="preserve" stroke="#ff0000" stroke-width="0.45">1</text>
<text transform="translate(1074.88,425.95) scale(1.0000,1.0000) skewX(0.01)" font-family="'Liberation Serif', 'Times New Roman', serif" font-size="18.0" font-weight="normal" font-style="normal" fill="#ff0000" xml:space="preserve" stroke="#ff0000" stroke-width="0.45">3</text>
<text transform="translate(1136.25,429.20) scale(1.0000,1.0000) skewX(0.01)" font-family="'Liberation Serif', 'Times New Roman', serif" font-size="18.0" font-weight="normal" font-style="normal" fill="#ff0000" xml:space="preserve" stroke="#ff0000" stroke-width="0.45">2'</text>
<text transform="translate(1293.12,134.20) scale(1.0000,1.0000) skewX(0.01)" font-family="'Liberation Serif', 'Times New Roman', serif" font-size="18.0" font-weight="normal" font-style="normal" fill="#ff0000" xml:space="preserve" stroke="#ff0000" stroke-width="0.45">8</text>
<text transform="translate(1383.62,101.20) scale(1.0000,1.0000) skewX(0.01)" font-family="'Liberation Serif', 'Times New Roman', serif" font-size="18.0" font-weight="normal" font-style="normal" fill="#ff0000" xml:space="preserve" stroke="#ff0000" stroke-width="0.45">7</text>
<text transform="translate(1427.50,117.20) scale(1.0000,1.0000) skewX(0.01)" font-family="'Liberation Serif', 'Times New Roman', serif" font-size="18.0" font-weight="normal" font-style="normal" fill="#ff0000" xml:space="preserve" stroke="#ff0000" stroke-width="0.45">6</text>
<text transform="translate(1526.00,102.20) scale(1.0000,1.0000) skewX(0.01)" font-family="'Liberation Serif', 'Times New Roman', serif" font-size="18.0" font-weight="normal" font-style="normal" fill="#ff0000" xml:space="preserve" stroke="#ff0000" stroke-width="0.45">5</text>
<text transform="translate(1586.88,60.45) scale(1.0000,1.0000) skewX(0.01)" font-family="'Liberation Serif', 'Times New Roman', serif" font-size="18.0" font-weight="normal" font-style="normal" fill="#ff0000" xml:space="preserve" stroke="#ff0000" stroke-width="0.45">4</text>
<text transform="translate(1635.25,146.70) scale(1.0000,1.0000) skewX(0.01)" font-family="'Liberation Serif', 'Times New Roman', serif" font-size="18.0" font-weight="normal" font-style="normal" fill="#ff0000" xml:space="preserve" stroke="#ff0000" stroke-width="0.45">3</text>
<text transform="translate(1671.25,115.45) scale(1.0000,1.0000) skewX(0.01)" font-family="'Liberation Serif', 'Times New Roman', serif" font-size="18.0" font-weight="normal" font-style="normal" fill="#ff0000" xml:space="preserve" stroke="#ff0000" stroke-width="0.45">2</text>
<text transform="translate(1706.88,127.95) scale(1.0000,1.0000) skewX(0.01)" font-family="'Liberation Serif', 'Times New Roman', serif" font-size="18.0" font-weight="normal" font-style="normal" fill="#ff0000" xml:space="preserve" stroke="#ff0000" stroke-width="0.45">1</text>
<text transform="translate(1335.00,244.70) scale(1.0000,1.0000) skewX(0.01)" font-family="'Liberation Serif', 'Times New Roman', serif" font-size="18.0" font-weight="normal" font-style="normal" fill="#ff0000" xml:space="preserve" stroke="#ff0000" stroke-width="0.45">8</text>
<text transform="translate(1404.00,233.20) scale(1.0000,1.0000) skewX(0.01)" font-family="'Liberation Serif', 'Times New Roman', serif" font-size="18.0" font-weight="normal" font-style="normal" fill="#ff0000" xml:space="preserve" stroke="#ff0000" stroke-width="0.45">7</text>
<text transform="translate(1439.12,230.45) scale(1.0000,1.0000) skewX(0.01)" font-family="'Liberation Serif', 'Times New Roman', serif" font-size="18.0" font-weight="normal" font-style="normal" fill="#ff0000" xml:space="preserve" stroke="#ff0000" stroke-width="0.45">6</text>
<text transform="translate(1530.00,226.70) scale(1.0000,1.0000) skewX(0.01)" font-family="'Liberation Serif', 'Times New Roman', serif" font-size="18.0" font-weight="normal" font-style="normal" fill="#ff0000" xml:space="preserve" stroke="#ff0000" stroke-width="0.45">5</text>
<text transform="translate(1587.75,196.70) scale(1.0000,1.0000) skewX(0.01)" font-family="'Liberation Serif', 'Times New Roman', serif" font-size="18.0" font-weight="normal" font-style="normal" fill="#ff0000" xml:space="preserve" stroke="#ff0000" stroke-width="0.45">4</text>
<text transform="translate(1636.25,247.20) scale(1.0000,1.0000) skewX(0.01)" font-family="'Liberation Serif', 'Times New Roman', serif" font-size="18.0" font-weight="normal" font-style="normal" fill="#ff0000" xml:space="preserve" stroke="#ff0000" stroke-width="0.45">3</text>
<text transform="translate(1664.38,225.95) scale(1.0000,1.0000) skewX(0.01)" font-family="'Liberation Serif', 'Times New Roman', serif" font-size="18.0" font-weight="normal" font-style="normal" fill="#ff0000" xml:space="preserve" stroke="#ff0000" stroke-width="0.45">2</text>
<text transform="translate(1705.38,238.70) scale(1.0000,1.0000) skewX(0.01)" font-family="'Liberation Serif', 'Times New Roman', serif" font-size="18.0" font-weight="normal" font-style="normal" fill="#ff0000" xml:space="preserve" stroke="#ff0000" stroke-width="0.45">1</text>
<text transform="translate(1386.75,340.45) scale(1.0000,1.0000) skewX(0.01)" font-family="'Liberation Serif', 'Times New Roman', serif" font-size="18.0" font-weight="normal" font-style="normal" fill="#ff0000" xml:space="preserve" stroke="#ff0000" stroke-width="0.45">7</text>
<text transform="translate(1298.88,398.70) scale(1.0000,1.0000) skewX(0.01)" font-family="'Liberation Serif', 'Times New Roman', serif" font-size="18.0" font-weight="normal" font-style="normal" fill="#ff0000" xml:space="preserve" stroke="#ff0000" stroke-width="0.45">8</text>
<text transform="translate(1416.00,384.70) scale(1.0000,1.0000) skewX(0.01)" font-family="'Liberation Serif', 'Times New Roman', serif" font-size="18.0" font-weight="normal" font-style="normal" fill="#ff0000" xml:space="preserve" stroke="#ff0000" stroke-width="0.45">6</text>
<text transform="translate(1514.38,346.20) scale(1.0000,1.0000) skewX(0.01)" font-family="'Liberation Serif', 'Times New Roman', serif" font-size="18.0" font-weight="normal" font-style="normal" fill="#ff0000" xml:space="preserve" stroke="#ff0000" stroke-width="0.45">5</text>
<text transform="translate(1598.88,329.70) scale(1.0000,1.0000) skewX(0.01)" font-family="'Liberation Serif', 'Times New Roman', serif" font-size="18.0" font-weight="normal" font-style="normal" fill="#ff0000" xml:space="preserve" stroke="#ff0000" stroke-width="0.45">4</text>
<text transform="translate(1618.62,402.20) scale(1.0000,1.0000) skewX(0.01)" font-family="'Liberation Serif', 'Times New Roman', serif" font-size="18.0" font-weight="normal" font-style="normal" fill="#ff0000" xml:space="preserve" stroke="#ff0000" stroke-width="0.45">3</text>
<text transform="translate(1655.88,399.70) scale(1.0000,1.0000) skewX(0.01)" font-family="'Liberation Serif', 'Times New Roman', serif" font-size="18.0" font-weight="normal" font-style="normal" fill="#ff0000" xml:space="preserve" stroke="#ff0000" stroke-width="0.45">2</text>
<text transform="translate(1693.62,382.20) scale(1.0000,1.0000) skewX(0.01)" font-family="'Liberation Serif', 'Times New Roman', serif" font-size="18.0" font-weight="normal" font-style="normal" fill="#ff0000" xml:space="preserve" stroke="#ff0000" stroke-width="0.45">1</text>
<text transform="translate(141.24,48.40) scale(1.0625,1.0000) skewX(0.01)" font-family="'Liberation Sans', Arial, Helvetica, sans-serif" font-size="23.6" font-weight="normal" font-style="normal" fill="#000" xml:space="preserve" stroke="#000" stroke-width="0.25">OH</text>
<text transform="translate(163.97,116.20) scale(1.0312,1.0000) skewX(0.01)" font-family="'Liberation Sans', Arial, Helvetica, sans-serif" font-size="23.6" font-weight="normal" font-style="normal" fill="#000" xml:space="preserve" stroke="#000" stroke-width="0.25">O</text>
<text transform="translate(99.61,129.60) scale(0.9938,1.0000) skewX(0.01)" font-family="'Liberation Sans', Arial, Helvetica, sans-serif" font-size="23.6" font-weight="normal" font-style="normal" fill="#000" xml:space="preserve" stroke="#000" stroke-width="0.25">O</text>
<text transform="translate(411.74,41.40) scale(1.0625,1.0000) skewX(0.01)" font-family="'Liberation Sans', Arial, Helvetica, sans-serif" font-size="23.6" font-weight="normal" font-style="normal" fill="#000" xml:space="preserve" stroke="#000" stroke-width="0.25">OH</text>
<text transform="translate(434.47,109.20) scale(1.0312,1.0000) skewX(0.01)" font-family="'Liberation Sans', Arial, Helvetica, sans-serif" font-size="23.6" font-weight="normal" font-style="normal" fill="#000" xml:space="preserve" stroke="#000" stroke-width="0.25">O</text>
<text transform="translate(370.11,122.60) scale(0.9937,1.0000) skewX(0.01)" font-family="'Liberation Sans', Arial, Helvetica, sans-serif" font-size="23.6" font-weight="normal" font-style="normal" fill="#000" xml:space="preserve" stroke="#000" stroke-width="0.25">O</text>
<text transform="translate(110.42,164.00) scale(0.9923,1.0000) skewX(0.01)" font-family="'Liberation Sans', Arial, Helvetica, sans-serif" font-size="25.2" font-weight="bold" font-style="normal" fill="#000" xml:space="preserve" stroke="#000" stroke-width="0.25"><tspan font-family="'NanumGothic', 'Liberation Sans', sans-serif" stroke="#000" stroke-width="0.45">1</tspan>06</text>
<text transform="translate(104.40,196.90) scale(1.0024,1.0000) skewX(0.01)" font-family="'Liberation Sans', Arial, Helvetica, sans-serif" font-size="24.8" font-weight="normal" font-style="normal" fill="#000" xml:space="preserve" stroke="#000" stroke-width="0.25">(<tspan font-style="italic">R</tspan>)-Sotolon</text>
<text transform="translate(104.76,229.20) scale(1.0209,1.0000) skewX(0.01)" font-family="'Liberation Sans', Arial, Helvetica, sans-serif" font-size="24.6" font-weight="normal" font-style="normal" fill="#000" xml:space="preserve" stroke="#000" stroke-width="0.25">[α]<tspan font-size="17" dy="5.4">D</tspan><tspan dy="-5.4">  - 2<tspan font-family="'NanumGothic', 'Liberation Sans', sans-serif" stroke="#000" stroke-width="0.45">1</tspan>.5</tspan></text>
<text transform="translate(348.38,164.80) scale(0.9725,1.0000) skewX(0.01)" font-family="'Liberation Sans', Arial, Helvetica, sans-serif" font-size="25.2" font-weight="bold" font-style="normal" fill="#000" xml:space="preserve" stroke="#000" stroke-width="0.25"><tspan font-family="'NanumGothic', 'Liberation Sans', sans-serif" stroke="#000" stroke-width="0.45">1</tspan>75</text>
<text transform="translate(349.00,197.20) scale(0.9991,1.0000) skewX(0.01)" font-family="'Liberation Sans', Arial, Helvetica, sans-serif" font-size="24.8" font-weight="normal" font-style="normal" fill="#000" xml:space="preserve" stroke="#000" stroke-width="0.25">(<tspan font-style="italic">R</tspan>)-Maple furanone</text>
<text transform="translate(349.24,230.00) scale(1.0292,1.0000) skewX(0.01)" font-family="'Liberation Sans', Arial, Helvetica, sans-serif" font-size="24.6" font-weight="normal" font-style="normal" fill="#000" xml:space="preserve" stroke="#000" stroke-width="0.25">[α]<tspan font-size="17" dy="5.4">D</tspan><tspan dy="-5.4">   +36.8</tspan></text>
<text transform="translate(93.99,298.30) scale(1.1125,1.0000) skewX(0.01)" font-family="'Liberation Sans', Arial, Helvetica, sans-serif" font-size="23.6" font-weight="normal" font-style="normal" fill="#000" xml:space="preserve" stroke="#000" stroke-width="0.25">O</text>
<text transform="translate(130.32,297.90) scale(1.1385,1.0000) skewX(0.01)" font-family="'Liberation Sans', Arial, Helvetica, sans-serif" font-size="23.6" font-weight="normal" font-style="normal" fill="#000" xml:space="preserve" stroke="#000" stroke-width="0.25">H</text>
<text transform="translate(140.72,360.60) scale(0.9750,1.0000) skewX(0.01)" font-family="'Liberation Sans', Arial, Helvetica, sans-serif" font-size="23.6" font-weight="normal" font-style="normal" fill="#000" xml:space="preserve" stroke="#000" stroke-width="0.25">O</text>
<text transform="translate(83.47,390.10) scale(1.0250,1.0000) skewX(0.01)" font-family="'Liberation Sans', Arial, Helvetica, sans-serif" font-size="23.6" font-weight="normal" font-style="normal" fill="#000" xml:space="preserve" stroke="#000" stroke-width="0.25">O</text>
<text transform="translate(62.62,366.60) scale(1.1800,1.0000) skewX(0.01)" font-family="'Liberation Sans', Arial, Helvetica, sans-serif" font-size="17.0" font-weight="normal" font-style="normal" fill="#000" xml:space="preserve" stroke="#000" stroke-width="0.25">R</text>
<text transform="translate(20.24,400.00) scale(1.1308,1.0000) skewX(0.01)" font-family="'Liberation Sans', Arial, Helvetica, sans-serif" font-size="22.0" font-weight="normal" font-style="normal" fill="#000" xml:space="preserve" stroke="#000" stroke-width="0.25">R</text>
<text transform="translate(40.14,433.40) scale(0.9860,1.0000) skewX(0.01)" font-family="'Liberation Sans', Arial, Helvetica, sans-serif" font-size="25.2" font-weight="normal" font-style="normal" fill="#000" xml:space="preserve" stroke="#000" stroke-width="0.25"><tspan font-weight="bold"><tspan font-family="'NanumGothic', 'Liberation Sans', sans-serif" stroke="#000" stroke-width="0.45">1</tspan>06:</tspan> R= Me</text>
<text transform="translate(40.16,462.70) scale(0.9793,1.0000) skewX(0.01)" font-family="'Liberation Sans', Arial, Helvetica, sans-serif" font-size="25.2" font-weight="normal" font-style="normal" fill="#000" xml:space="preserve" stroke="#000" stroke-width="0.25"><tspan font-weight="bold"><tspan font-family="'NanumGothic', 'Liberation Sans', sans-serif" stroke="#000" stroke-width="0.45">1</tspan>75</tspan>: R=Et</text>
<text transform="translate(248.69,345.80) scale(1.0538,1.0000) skewX(0.01)" font-family="'Liberation Sans', Arial, Helvetica, sans-serif" font-size="22.0" font-weight="normal" font-style="normal" fill="#000" xml:space="preserve" stroke="#000" stroke-width="0.25">R</text>
<text transform="translate(583.72,347.10) scale(1.2385,1.0000) skewX(0.01)" font-family="'Liberation Sans', Arial, Helvetica, sans-serif" font-size="22.0" font-weight="normal" font-style="normal" fill="#000" xml:space="preserve" stroke="#000" stroke-width="0.25">R</text>
<text transform="translate(304.01,375.60) scale(1.0875,1.0000) skewX(0.01)" font-family="'Liberation Sans', Arial, Helvetica, sans-serif" font-size="23.6" font-weight="normal" font-style="normal" fill="#000" xml:space="preserve" stroke="#000" stroke-width="0.25">O</text>
<text transform="translate(526.92,319.80) scale(1.0750,1.0000) skewX(0.01)" font-family="'Liberation Sans', Arial, Helvetica, sans-serif" font-size="23.6" font-weight="normal" font-style="normal" fill="#000" xml:space="preserve" stroke="#000" stroke-width="0.25">O</text>
<text transform="translate(368.40,310.20) scale(1.1000,1.0000) skewX(0.01)" font-family="'Liberation Sans', Arial, Helvetica, sans-serif" font-size="23.6" font-weight="normal" font-style="normal" fill="#000" xml:space="preserve" stroke="#000" stroke-width="0.25">O</text>
<text transform="translate(407.53,310.00) scale(1.0846,1.0000) skewX(0.01)" font-family="'Liberation Sans', Arial, Helvetica, sans-serif" font-size="23.6" font-weight="normal" font-style="normal" fill="#000" xml:space="preserve" stroke="#000" stroke-width="0.25">H</text>
<text transform="translate(463.50,310.20) scale(1.1000,1.0000) skewX(0.01)" font-family="'Liberation Sans', Arial, Helvetica, sans-serif" font-size="23.6" font-weight="normal" font-style="normal" fill="#000" xml:space="preserve" stroke="#000" stroke-width="0.25">O</text>
<text transform="translate(366.91,386.40) scale(1.0875,1.0000) skewX(0.01)" font-family="'Liberation Sans', Arial, Helvetica, sans-serif" font-size="23.6" font-weight="normal" font-style="normal" fill="#000" xml:space="preserve" stroke="#000" stroke-width="0.25">O</text>
<text transform="translate(429.68,386.50) scale(1.1077,1.0000) skewX(0.01)" font-family="'Liberation Sans', Arial, Helvetica, sans-serif" font-size="23.6" font-weight="normal" font-style="normal" fill="#000" xml:space="preserve" stroke="#000" stroke-width="0.25">H</text>
<text transform="translate(464.62,386.30) scale(1.0813,1.0000) skewX(0.01)" font-family="'Liberation Sans', Arial, Helvetica, sans-serif" font-size="23.6" font-weight="normal" font-style="normal" fill="#000" xml:space="preserve" stroke="#000" stroke-width="0.25">O</text>
<text transform="translate(362.46,433.40) scale(0.9803,1.0000) skewX(0.01)" font-family="'Liberation Sans', Arial, Helvetica, sans-serif" font-size="25.2" font-weight="normal" font-style="normal" fill="#000" xml:space="preserve" stroke="#000" stroke-width="0.25"><tspan font-weight="bold"><tspan font-family="'NanumGothic', 'Liberation Sans', sans-serif" stroke="#000" stroke-width="0.45">1</tspan>06a</tspan>: R= Me</text>
<text transform="translate(362.48,462.70) scale(0.9744,1.0000) skewX(0.01)" font-family="'Liberation Sans', Arial, Helvetica, sans-serif" font-size="25.2" font-weight="normal" font-style="normal" fill="#000" xml:space="preserve" stroke="#000" stroke-width="0.25"><tspan font-weight="bold"><tspan font-family="'NanumGothic', 'Liberation Sans', sans-serif" stroke="#000" stroke-width="0.45">1</tspan>75a</tspan>: R=Et</text>
</svg>
</body></html>
